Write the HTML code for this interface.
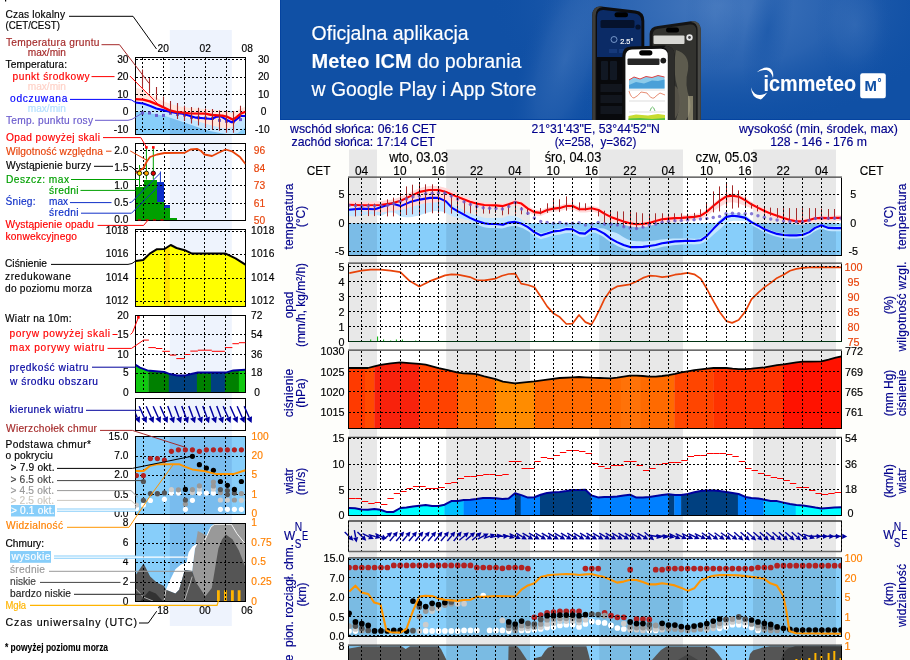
<!DOCTYPE html>
<html lang="pl"><head><meta charset="utf-8"><title>Meteogram ICM</title>
<style>html,body{margin:0;padding:0;background:#fff}body{width:910px;height:660px;overflow:hidden}svg{display:block}text{font-family:'Liberation Sans', sans-serif}</style>
</head><body>
<svg width="910" height="660" viewBox="0 0 910 660">
<defs>
<radialGradient id="bg1" cx="700" cy="-10" r="260" gradientUnits="userSpaceOnUse"><stop offset="0" stop-color="#4377BB"/><stop offset="0.45" stop-color="#2C65B0"/><stop offset="1" stop-color="#1050A5"/></radialGradient>
<radialGradient id="glow" cx="0.5" cy="0.5" r="0.5"><stop offset="0" stop-color="#4A7CC0" stop-opacity="0.95"/><stop offset="0.5" stop-color="#3A6FB8" stop-opacity="0.6"/><stop offset="1" stop-color="#1050A5" stop-opacity="0"/></radialGradient>
<radialGradient id="dark" cx="0.5" cy="0.5" r="0.5"><stop offset="0" stop-color="#1050A5" stop-opacity="1"/><stop offset="1" stop-color="#1050A5" stop-opacity="0"/></radialGradient>
<clipPath id="cban"><rect x="280" y="0" width="630" height="120"/></clipPath>
<clipPath id="c_temp"><rect x="348.5" y="177.5" width="493.0" height="77.5"/></clipPath>
<clipPath id="c_prec"><rect x="348.5" y="263.5" width="493.0" height="78.0"/></clipPath>
<clipPath id="c_pres"><rect x="348.5" y="350.5" width="493.0" height="77.80000000000001"/></clipPath>
<clipPath id="c_wind"><rect x="348.5" y="437.6" width="493.0" height="77.39999999999998"/></clipPath>
<clipPath id="c_wdir"><rect x="348.5" y="521.3" width="493.0" height="30.200000000000045"/></clipPath>
<clipPath id="c_cbase"><rect x="348.5" y="558.2" width="493.0" height="77.79999999999995"/></clipPath>
<clipPath id="c_cloud"><rect x="348.5" y="645.5" width="493.0" height="19.5"/></clipPath>
</defs>
<rect x="0" y="0" width="280" height="660" fill="#fff"/>
<rect x="280" y="0" width="630" height="660" fill="#FEFEFB"/>
<g clip-path="url(#cban)">
<rect x="280" y="0" width="630" height="120" fill="#1050A5"/>
<ellipse cx="720" cy="5" rx="230" ry="125" fill="url(#glow)"/>
<ellipse cx="565" cy="60" rx="45" ry="130" fill="url(#glow)" fill-opacity="0.55" transform="rotate(18 565 60)"/>
<ellipse cx="640" cy="110" rx="60" ry="60" fill="url(#glow)" fill-opacity="0.35"/>
<ellipse cx="768" cy="30" rx="22" ry="70" fill="url(#dark)" fill-opacity="0.55" transform="rotate(12 768 30)"/>
<ellipse cx="855" cy="25" rx="40" ry="60" fill="url(#glow)" fill-opacity="0.4"/>
<ellipse cx="715" cy="15" rx="30" ry="60" fill="url(#glow)" fill-opacity="0.35"/>
<path d="M280 0V120H910" fill="none" stroke="#0443A0" stroke-width="2"/>
<text x="311.6" y="39.6" font-size="20.5" fill="#fff" textLength="157" lengthAdjust="spacingAndGlyphs" stroke="#fff" stroke-width="0.16">Oficjalna aplikacja</text>
<text x="311.6" y="67.8" font-size="20.5" fill="#fff" textLength="100" lengthAdjust="spacingAndGlyphs" font-weight="bold" stroke="#fff" stroke-width="0.1">Meteo ICM</text>
<text x="417.5" y="67.8" font-size="20.5" fill="#fff" textLength="104" lengthAdjust="spacingAndGlyphs" stroke="#fff" stroke-width="0.16">do pobrania</text>
<text x="311.6" y="95.8" font-size="20.5" fill="#fff" textLength="225" lengthAdjust="spacingAndGlyphs" stroke="#fff" stroke-width="0.16">w Google Play i App Store</text>
<path d="M592.3 120V15.5Q592.6 6.2 601 6.6L635.5 10.6Q644.3 11.8 644.3 21V120Z" fill="#0C0C0E"/>
<path d="M592.3 120V15.5Q592.6 6.2 601 6.6L603 7Q595.6 7.5 595.6 16V120Z" fill="#3C3C3A"/>
<path d="M597 120V17Q597 9.6 603.5 10L634.5 13.5Q641.4 14.4 641.4 21.5V120Z" fill="#0B2B66"/>
<path d="M597 57H641.4V120H597Z" fill="#08090C"/>
<rect x="614.5" y="12.2" width="13.5" height="5" rx="2.5" fill="#000"/>
<rect x="600.5" y="20" width="34" height="8" rx="1.5" fill="#05122C"/>
<circle cx="638" cy="27" r="2.6" fill="#05122C"/>
<text x="620.3" y="44" font-size="8" fill="#fff" textLength="13" lengthAdjust="spacingAndGlyphs" stroke="#fff" stroke-width="0.16">2.5°</text>
<circle cx="614" cy="39.5" r="3" fill="none" stroke="#8FB0E0" stroke-width="0.8"/>
<rect x="609" y="49" width="8" height="4" fill="#16397A"/><rect x="619" y="49" width="8" height="4" fill="#16397A"/>
<rect x="601" y="61" width="7" height="19" rx="1" fill="#111823"/><rect x="610" y="61" width="7" height="19" rx="1" fill="#111823"/>
<rect x="600.5" y="84" width="22" height="8" fill="#12161E"/><rect x="600.5" y="95" width="22" height="8" fill="#12161E"/><rect x="600.5" y="106" width="22" height="8" fill="#12161E"/>
<path d="M649.6 120V34Q650 26.6 658 26L691 21.2Q700.5 20.6 700.8 30V120Z" fill="#141414"/>
<path d="M697.6 120V30Q697.4 22.6 691 22L692 21.2Q700.5 20.6 700.8 30V120Z" fill="#4A4A46"/>
<path d="M652.6 120V35Q652.8 29.4 658.5 28.8L690 24.4Q696 24 696.3 30V120Z" fill="#33332F"/>
<rect x="653.5" y="35.5" width="31" height="8.5" rx="1" fill="#D8D8D4"/>
<circle cx="689.5" cy="37.5" r="3.2" fill="#E8E8E8"/><circle cx="689.5" cy="37.5" r="1.4" fill="#444"/>
<rect x="666" y="27.5" width="13" height="5" rx="2.5" fill="#000"/>
<path d="M676 50Q690 54 688 70Q684 84 690 100Q692 112 686 120H676Q682 104 678 90Q672 70 676 50Z" fill="#7A7664" fill-opacity="0.6"/>
<path d="M672 84Q680 88 682 100Q680 112 674 120H668Q674 104 672 84Z" fill="#5F5B50" fill-opacity="0.8"/>
<path d="M688 96H693V120H688Z" fill="#B8B090" fill-opacity="0.6"/>
<path d="M622.3 120V56Q622.4 46.8 631 46.4L664 45.6Q674.3 45.8 674.5 55V120Z" fill="#0E0E0E"/>
<path d="M668.2 120V55Q668 49 664 47.6L666 45.8Q674.3 46 674.5 55V120Z" fill="#2C2C2A"/>
<path d="M625.4 120V57Q625.4 49.6 632 49.4L661 48.8Q667.6 49 667.8 55.5V120Z" fill="#fff"/>
<rect x="639.2" y="50.2" width="13.2" height="5.2" rx="2.6" fill="#000"/>
<rect x="627.5" y="58.5" width="32" height="6.6" rx="1" fill="#262626"/>
<circle cx="663.3" cy="60.6" r="2.9" fill="#1a1a1a"/>
<path d="M629 80L634 77L640 79L646 76.5L652 77.5L658 75.5L664.5 77V88.5H629Z" fill="#8CCBEA"/>
<path d="M629 85L636 82L644 83.5L652 80.5L658 81L664.5 79.5V88.5H629Z" fill="#4AA0D8"/>
<path d="M629 80L634 77L640 79L646 76.5L652 77.5L658 75.5L664.5 77" fill="none" stroke="#E03030" stroke-width="0.9"/>
<path d="M629 91Q631 98 634 98Q638 96 641 92L647 93Q651 99 654 98Q657 95 660 93L665 95" fill="none" stroke="#E07050" stroke-width="0.8"/>
<path d="M629 90H665M629 101H665M629 112H665" stroke="#BBB" stroke-width="0.5"/>
<path d="M650 111Q652.5 103 655 111" fill="none" stroke="#50B050" stroke-width="0.8"/>
<path d="M628.5 120V116L636 114.5L648 115.5L658 114L665 115V120Z" fill="#C8DC30"/>
<path d="M628.5 120V118.5L640 118L652 119L665 118V120Z" fill="#58C048"/>
<text x="763.6" y="91" font-size="21.5" font-weight="bold" fill="#fff" textLength="92.5" lengthAdjust="spacingAndGlyphs" stroke="#fff" stroke-width="0.1">icmmeteo</text>
<path d="M751 87.3Q751.5 98.5 760.8 99.5Q764.5 97 767.2 92.6Q760.5 96.8 755 93.8Q752 91.5 751 87.3Z" fill="#fff"/>
<path d="M756.8 72.2Q763.5 66 770 68.2Q774.2 71 773 78Q771.5 71.5 766.5 70Q761.5 69.5 756.8 72.2Z" fill="#fff"/>
<rect x="860.2" y="73.3" width="25.6" height="25" rx="2.2" fill="#fff"/>
<text x="864.6" y="91.2" font-size="14.7" font-weight="bold" fill="#1050A5" textLength="12.4" lengthAdjust="spacingAndGlyphs" stroke="#1050A5" stroke-width="0.1">M</text>
<text x="877.6" y="85.6" font-size="10" font-weight="bold" fill="#1050A5" stroke="#1050A5" stroke-width="0.1">°</text>
</g>
<defs>
<clipPath id="l_temp"><rect x="135.5" y="57.5" width="110.0" height="77"/></clipPath>
<clipPath id="l_prec"><rect x="135.5" y="143.5" width="110.0" height="77"/></clipPath>
<clipPath id="l_pres"><rect x="135.5" y="229.5" width="110.0" height="77"/></clipPath>
<clipPath id="l_wind"><rect x="135.5" y="315.5" width="110.0" height="77"/></clipPath>
<clipPath id="l_wdir"><rect x="135.5" y="398.5" width="110.0" height="32"/></clipPath>
<clipPath id="l_cbase"><rect x="135.5" y="436.5" width="110.0" height="78"/></clipPath>
<clipPath id="l_cloud"><rect x="135.5" y="523.5" width="110.0" height="78"/></clipPath>
</defs>
<rect x="169.8" y="30" width="62.0" height="596" fill="#EEF3FD"/>
<text x="163.2" y="51.6" font-size="10.2" fill="#000" text-anchor="middle" stroke="#000" stroke-width="0.16">20</text>
<text x="205.2" y="51.6" font-size="10.2" fill="#000" text-anchor="middle" stroke="#000" stroke-width="0.16">02</text>
<text x="247.2" y="51.6" font-size="10.2" fill="#000" text-anchor="middle" stroke="#000" stroke-width="0.16">08</text>
<rect x="135.5" y="57.5" width="110.0" height="77.0" fill="#fff"/>
<rect x="169.8" y="57.5" width="62.0" height="77.0" fill="#EEF3FD"/>
<g clip-path="url(#l_temp)">
<rect x="135.5" y="111.4" width="110.0" height="23.1" fill="#87CEFA"/>
<rect x="169.8" y="111.4" width="62.0" height="23.1" fill="#0030A0" fill-opacity="0.10"/>
<polygon points="135.27,101.47 143.19,102.53 149.78,104.77 156.37,107.41 162.97,109.12 169.56,110.71 176.16,112.02 182.75,112.68 189.34,114.66 195.94,116.64 203.85,117.3 211.76,117.96 215.72,115.98 220.99,115.32 226.27,118.62 231.54,121.26 235.5,119.28 240.77,114.93 245.65,114.93 245.4,127 238,133 230,134.5 220,133 210,131 200,128 190,124.5 180,121 165,116 150,113.3 143,111.5 135.6,110" fill="#C4E6FF"/>
<polygon points="135.6,88 142,89 150,94 157,98 164,101.5 171,104 180,106.5 190,108 200,108.6 210,109.5 220,110.4 226,111 232,112.5 236,111 240,109 245.4,106.5 245.4,116 238,121 232,127 226,128.8 220,127.5 210,125 200,122 190,119 180,116 165,112 150,104 135.6,102" fill="#FFE6DE"/>
</g>
<path d="M142.5 57.5V134.5M163.5 57.5V134.5M184.5 57.5V134.5M205.5 57.5V134.5M226.5 57.5V134.5M135.5 59.5H245.5M135.5 77.5H245.5M135.5 94.5H245.5M135.5 111.5H245.5M135.5 129.5H245.5" stroke="#000" stroke-width="1" stroke-dasharray="2 2" fill="none" shape-rendering="crispEdges"/>
<rect x="135.5" y="57.5" width="110.0" height="77" fill="none" stroke="#000" stroke-width="1" shape-rendering="crispEdges"/>
<g clip-path="url(#l_temp)">
<rect x="141" y="111.5" width="3" height="3" fill="#6A5ACD"/>
<rect x="148" y="111.5" width="3" height="3" fill="#6A5ACD"/>
<rect x="155" y="113.9" width="3" height="3" fill="#6A5ACD"/>
<rect x="162" y="113.9" width="3" height="3" fill="#6A5ACD"/>
<rect x="169" y="111.8" width="3" height="3" fill="#6A5ACD"/>
<rect x="176" y="113" width="3" height="3" fill="#6A5ACD"/>
<rect x="183" y="113.7" width="3" height="3" fill="#6A5ACD"/>
<rect x="190" y="116.1" width="3" height="3" fill="#6A5ACD"/>
<rect x="197" y="116.3" width="3" height="3" fill="#6A5ACD"/>
<rect x="204" y="116.5" width="3" height="3" fill="#6A5ACD"/>
<rect x="211" y="117" width="3" height="3" fill="#6A5ACD"/>
<rect x="218" y="118.8" width="3" height="3" fill="#6A5ACD"/>
<rect x="225" y="119.8" width="3" height="3" fill="#6A5ACD"/>
<rect x="232" y="120.3" width="3" height="3" fill="#6A5ACD"/>
<rect x="239" y="118.1" width="3" height="3" fill="#6A5ACD"/>
<polyline points="135.27,102.47 143.19,103.53 149.78,105.77 156.37,108.41 162.97,110.12 169.56,111.71 176.16,113.02 182.75,113.68 189.34,115.66 195.94,117.64 203.85,118.3 211.76,118.96 215.72,116.98 220.99,116.32 226.27,119.62 231.54,122.26 235.5,120.28 240.77,115.93 245.65,115.93" fill="none" stroke="#0000FF" stroke-width="2.1" stroke-linejoin="round"/>
<polyline points="135.27,99.18 143.19,99.57 149.78,101.42 156.37,104.06 162.97,107.09 169.56,110.39 176.16,111.97 182.75,112.63 189.34,113.29 205.17,113.68 211.76,115 222.31,115.66 227.59,116.98 232.86,119.62 236.82,116.98 240.77,113.68 245.65,111.71" fill="none" stroke="#FF0000" stroke-width="2.3" stroke-linejoin="round"/>
<path d="M142.5 69.5V88M149.5 78V93.2M156.5 87V99.8M163.5 96.5V107M170.5 101V113.7M177.5 103V119M184.5 105.8V121M191.5 107V123.6M198.5 107.7V125.5M205.5 108.4V127.5M212.5 109V129.5M219.5 110.4V130.8M226.5 111V132.8M233.5 111V132.8M240.5 105.8V117" stroke="#A52A2A" stroke-width="1.1" fill="none"/>
</g>
<text x="128.5" y="62.8" font-size="10.2" fill="#000" text-anchor="end" stroke="#000" stroke-width="0.16">30</text>
<text x="263.6" y="62.8" font-size="10.2" fill="#000" text-anchor="middle" stroke="#000" stroke-width="0.16">30</text>
<text x="128.5" y="80.3" font-size="10.2" fill="#000" text-anchor="end" stroke="#000" stroke-width="0.16">20</text>
<text x="263.6" y="80.3" font-size="10.2" fill="#000" text-anchor="middle" stroke="#000" stroke-width="0.16">20</text>
<text x="128.5" y="97.6" font-size="10.2" fill="#000" text-anchor="end" stroke="#000" stroke-width="0.16">10</text>
<text x="263.6" y="97.6" font-size="10.2" fill="#000" text-anchor="middle" stroke="#000" stroke-width="0.16">10</text>
<text x="128.5" y="115" font-size="10.2" fill="#000" text-anchor="end" stroke="#000" stroke-width="0.16">0</text>
<text x="263.6" y="115" font-size="10.2" fill="#000" text-anchor="middle" stroke="#000" stroke-width="0.16">0</text>
<text x="128.5" y="132.5" font-size="10.2" fill="#000" text-anchor="end" stroke="#000" stroke-width="0.16">-10</text>
<text x="262.3" y="132.5" font-size="10.2" fill="#000" text-anchor="middle" stroke="#000" stroke-width="0.16">-10</text>
<rect x="135.5" y="143.5" width="110.0" height="77.0" fill="#fff"/>
<rect x="169.8" y="143.5" width="62.0" height="77.0" fill="#EEF3FD"/>
<g shape-rendering="crispEdges">
<rect x="135.6" y="187" width="8" height="33.5" fill="#00A000"/>
<rect x="143.6" y="179.5" width="13.1" height="41" fill="#00A000"/>
<rect x="156.7" y="201.9" width="7.5" height="18.6" fill="#00A000"/>
<rect x="164.2" y="207.5" width="5.6" height="13" fill="#00A000"/>
<rect x="169.8" y="218.2" width="7.1" height="2.3" fill="#00A000"/>
<rect x="156.7" y="182.3" width="7.5" height="19.6" fill="#1030C8"/>
<rect x="164.2" y="205.1" width="5.6" height="2.4" fill="#1030C8"/>
</g>
<path d="M143.5 143.5V220.5M164.5 143.5V220.5M184.5 143.5V220.5M204.5 143.5V220.5M225.5 143.5V220.5M135.5 150.5H245.5M135.5 168.5H245.5M135.5 185.5H245.5M135.5 203.5H245.5" stroke="#000" stroke-width="1" stroke-dasharray="2 2" fill="none" shape-rendering="crispEdges"/>
<rect x="135.5" y="143.5" width="110.0" height="77" fill="none" stroke="#000" stroke-width="1" shape-rendering="crispEdges"/>
<path d="M139.5 165V187M146.4 148V179.5M153.3 148V179.5" stroke="#00A000" stroke-width="1" fill="none"/>
<path d="M160.4 171.5V182.3" stroke="#1030C8" stroke-width="1" fill="none"/>
<path d="M138 219.8H166" stroke="#E00000" stroke-width="1.2" stroke-dasharray="3 4.5" fill="none"/>
<polyline points="135.6,173 139,171 143.6,168 146.5,162 150,157 157,154.5 164.5,153 184.7,152.8 190.5,149.5 197,148.8 201,151 204.5,154.5 212,156 218,153 225.6,149.5 232,151.3 240,157 245.5,164" fill="none" stroke="#E8430A" stroke-width="1.8" clip-path="url(#l_prec)" stroke-linejoin="round"/>
<rect x="145.1" y="146.1" width="2.6" height="2.6" fill="#F00"/><rect x="152" y="146.1" width="2.6" height="2.6" fill="#F00"/>
<circle cx="139.5" cy="173.3" r="2.2" fill="#FFE000" stroke="#000" stroke-width="0.8"/>
<circle cx="146.4" cy="173.3" r="2.2" fill="#FFA500" stroke="#000" stroke-width="0.8"/>
<circle cx="153.3" cy="173.3" r="2.2" fill="#E00000" stroke="#000" stroke-width="0.8"/>
<text x="128.4" y="154" font-size="10.2" fill="#000" text-anchor="end" stroke="#000" stroke-width="0.16">2.0</text>
<text x="128.4" y="171.2" font-size="10.2" fill="#000" text-anchor="end" stroke="#000" stroke-width="0.16">1.5</text>
<text x="128.4" y="188.6" font-size="10.2" fill="#000" text-anchor="end" stroke="#000" stroke-width="0.16">1.0</text>
<text x="128.4" y="206.3" font-size="10.2" fill="#000" text-anchor="end" stroke="#000" stroke-width="0.16">0.5</text>
<text x="128.4" y="223.3" font-size="10.2" fill="#000" text-anchor="end" stroke="#000" stroke-width="0.16">0.0</text>
<text x="259.5" y="153.5" font-size="10.2" fill="#E8430A" text-anchor="middle" stroke="#E8430A" stroke-width="0.16">96</text>
<text x="259.5" y="171.5" font-size="10.2" fill="#E8430A" text-anchor="middle" stroke="#E8430A" stroke-width="0.16">84</text>
<text x="259.5" y="188.6" font-size="10.2" fill="#E8430A" text-anchor="middle" stroke="#E8430A" stroke-width="0.16">73</text>
<text x="259.5" y="206.6" font-size="10.2" fill="#E8430A" text-anchor="middle" stroke="#E8430A" stroke-width="0.16">61</text>
<text x="259.5" y="223.5" font-size="10.2" fill="#E8430A" text-anchor="middle" stroke="#E8430A" stroke-width="0.16">50</text>
<rect x="135.5" y="229.5" width="110.0" height="77.0" fill="#fff"/>
<rect x="169.8" y="229.5" width="62.0" height="77.0" fill="#EEF3FD"/>
<clipPath id="l_presfill"><polygon points="135.6,306.5 135.6,261 143.2,260 149.8,253.6 157,249.2 164.5,249 170.7,245 176.5,248 184.7,250.2 192,253.6 225.6,253.6 235.5,258.3 245.4,264.6 245.4,306.5"/></clipPath>
<polygon points="135.6,306.5 135.6,261 143.2,260 149.8,253.6 157,249.2 164.5,249 170.7,245 176.5,248 184.7,250.2 192,253.6 225.6,253.6 235.5,258.3 245.4,264.6 245.4,306.5" fill="#FFFF00"/>
<rect x="164.5" y="246" width="5.2" height="60.5" fill="#FFD800" fill-opacity="0.8" clip-path="url(#l_presfill)"/>
<path d="M143.5 229.5V306.5M164.5 229.5V306.5M184.5 229.5V306.5M204.5 229.5V306.5M225.5 229.5V306.5M135.5 231.5H245.5M135.5 254.5H245.5M135.5 278.5H245.5M135.5 301.5H245.5" stroke="#000" stroke-width="1" stroke-dasharray="2 2" fill="none" shape-rendering="crispEdges"/>
<rect x="135.5" y="229.5" width="110.0" height="77" fill="none" stroke="#000" stroke-width="1" shape-rendering="crispEdges"/>
<polyline points="135.6,261 143.2,260 149.8,253.6 157,249.2 164.5,249 170.7,245 176.5,248 184.7,250.2 192,253.6 225.6,253.6 235.5,258.3 245.4,264.6" fill="none" stroke="#000" stroke-width="2" clip-path="url(#l_pres)" stroke-linejoin="round"/>
<text x="128.4" y="234.4" font-size="10.2" fill="#000" text-anchor="end" stroke="#000" stroke-width="0.16">1018</text>
<text x="251" y="234.4" font-size="10.2" fill="#000" textLength="23.4" lengthAdjust="spacing" stroke="#000" stroke-width="0.16">1018</text>
<text x="128.4" y="257.3" font-size="10.2" fill="#000" text-anchor="end" stroke="#000" stroke-width="0.16">1016</text>
<text x="251" y="257.3" font-size="10.2" fill="#000" textLength="23.4" lengthAdjust="spacing" stroke="#000" stroke-width="0.16">1016</text>
<text x="128.4" y="281.2" font-size="10.2" fill="#000" text-anchor="end" stroke="#000" stroke-width="0.16">1014</text>
<text x="251" y="281.2" font-size="10.2" fill="#000" textLength="23.4" lengthAdjust="spacing" stroke="#000" stroke-width="0.16">1014</text>
<text x="128.4" y="304.4" font-size="10.2" fill="#000" text-anchor="end" stroke="#000" stroke-width="0.16">1012</text>
<text x="251" y="304.4" font-size="10.2" fill="#000" textLength="23.4" lengthAdjust="spacing" stroke="#000" stroke-width="0.16">1012</text>
<rect x="135.5" y="315.5" width="110.0" height="77.0" fill="#fff"/>
<rect x="169.8" y="315.5" width="62.0" height="77.0" fill="#EEF3FD"/>
<polygon points="135.6,392.5 135.6,364.8 139.9,367.6 147.4,370.4 148.5,370.5 148.5,392.5" fill="#10C810"/>
<polygon points="148.3,392.5 148.3,370.48 164.2,371.9 169,373.79 169,392.5" fill="#008000"/>
<polygon points="168.8,392.5 168.8,373.71 169.8,374.1 177.3,375.6 184.7,375.6 192.2,373.7 197.1,372.74 197.1,392.5" fill="#004080"/>
<polygon points="196.9,392.5 196.9,372.78 197.8,372.6 211.1,372.6 211.1,392.5" fill="#008000"/>
<polygon points="210.9,392.5 210.9,372.6 225.1,372.6 225.1,392.5" fill="#004080"/>
<polygon points="224.9,392.5 224.9,372.6 225.8,372.6 233.3,370.4 239.1,370.11 239.1,392.5" fill="#008000"/>
<polygon points="238.9,392.5 238.9,370.12 245.4,369.8 245.6,369.8 245.6,392.5" fill="#10C810"/>
<path d="M143.5 315.5V392.5M164.5 315.5V392.5M184.5 315.5V392.5M204.5 315.5V392.5M225.5 315.5V392.5M135.5 334.5H245.5M135.5 354.5H245.5M135.5 373.5H245.5" stroke="#000" stroke-width="1" stroke-dasharray="2 2" fill="none" shape-rendering="crispEdges"/>
<rect x="135.5" y="315.5" width="110.0" height="77" fill="none" stroke="#000" stroke-width="1" shape-rendering="crispEdges"/>
<polyline points="135.6,364.8 139.9,367.6 147.4,370.4 164.2,371.9 169.8,374.1 177.3,375.6 184.7,375.6 192.2,373.7 197.8,372.6 225.8,372.6 233.3,370.4 245.4,369.8" fill="none" stroke="#00009C" stroke-width="2" clip-path="url(#l_wind)" stroke-linejoin="round"/>
<path d="M143.6 340.1H148.9M148.3 347.6H155.8M155.8 348.5H162.3M162.3 351.3H169.8M169.8 355.1H176.3M176.3 358.6H184.7M184.7 354.5H190.3M190.3 351.1H197.8M197.8 350.2H211.8M211.8 351.3H224.9M224.9 347.6H232.4M232.4 343.7H238.9M238.9 342.7H245.4" stroke="#F00" stroke-width="1" fill="none"/>
<rect x="137.1" y="316" width="2.6" height="2.6" fill="#F00"/>
<text x="128.6" y="318.6" font-size="10.2" fill="#000" text-anchor="end" stroke="#000" stroke-width="0.16">20</text>
<text x="128.6" y="337.6" font-size="10.2" fill="#000" text-anchor="end" stroke="#000" stroke-width="0.16">15</text>
<text x="128.6" y="357.5" font-size="10.2" fill="#000" text-anchor="end" stroke="#000" stroke-width="0.16">10</text>
<text x="128.6" y="376.4" font-size="10.2" fill="#000" text-anchor="end" stroke="#000" stroke-width="0.16">5</text>
<text x="128.6" y="395.5" font-size="10.2" fill="#000" text-anchor="end" stroke="#000" stroke-width="0.16">0</text>
<text x="251" y="318.6" font-size="10.2" fill="#000" stroke="#000" stroke-width="0.16">72</text>
<text x="251" y="337.6" font-size="10.2" fill="#000" stroke="#000" stroke-width="0.16">54</text>
<text x="251" y="357.5" font-size="10.2" fill="#000" stroke="#000" stroke-width="0.16">36</text>
<text x="251" y="376.4" font-size="10.2" fill="#000" stroke="#000" stroke-width="0.16">18</text>
<text x="254.3" y="395.5" font-size="10.2" fill="#000" stroke="#000" stroke-width="0.16">0</text>
<rect x="135.5" y="398.5" width="110.0" height="32.0" fill="#fff"/>
<rect x="169.8" y="398.5" width="62.0" height="32.0" fill="#EEF3FD"/>
<path d="M143.5 398.5V430.5M164.5 398.5V430.5M184.5 398.5V430.5M204.5 398.5V430.5M225.5 398.5V430.5" stroke="#000" stroke-width="1" stroke-dasharray="2 2" fill="none" shape-rendering="crispEdges"/>
<rect x="135.5" y="398.5" width="110.0" height="32" fill="none" stroke="#000" stroke-width="1" shape-rendering="crispEdges"/>
<clipPath id="l_wd"><rect x="135.5" y="398" width="130" height="33"/></clipPath><g clip-path="url(#l_wd)"><path d="M132.16 406.2L137.2 417.52" stroke="#0000A0" stroke-width="1.45" fill="none"/><polygon points="139.64,423 134.37,418.78 140.03,416.26" fill="#0000A0"/><path d="M139.16 406.2L144.2 417.52" stroke="#0000A0" stroke-width="1.45" fill="none"/><polygon points="146.64,423 141.37,418.78 147.03,416.26" fill="#0000A0"/><path d="M146.16 406.2L151.2 417.52" stroke="#0000A0" stroke-width="1.45" fill="none"/><polygon points="153.64,423 148.37,418.78 154.03,416.26" fill="#0000A0"/><path d="M153.16 406.2L158.2 417.52" stroke="#0000A0" stroke-width="1.45" fill="none"/><polygon points="160.64,423 155.37,418.78 161.03,416.26" fill="#0000A0"/><path d="M160.16 406.2L165.2 417.52" stroke="#0000A0" stroke-width="1.45" fill="none"/><polygon points="167.64,423 162.37,418.78 168.03,416.26" fill="#0000A0"/><path d="M167.75 405.95L171.99 417.61" stroke="#0000A0" stroke-width="1.45" fill="none"/><polygon points="174.05,423.25 169.08,418.67 174.91,416.55" fill="#0000A0"/><path d="M174.75 405.95L178.99 417.61" stroke="#0000A0" stroke-width="1.45" fill="none"/><polygon points="181.05,423.25 176.08,418.67 181.91,416.55" fill="#0000A0"/><path d="M181.75 405.95L185.99 417.61" stroke="#0000A0" stroke-width="1.45" fill="none"/><polygon points="188.05,423.25 183.08,418.67 188.91,416.55" fill="#0000A0"/><path d="M188.75 405.95L192.99 417.61" stroke="#0000A0" stroke-width="1.45" fill="none"/><polygon points="195.05,423.25 190.08,418.67 195.91,416.55" fill="#0000A0"/><path d="M195.75 405.95L199.99 417.61" stroke="#0000A0" stroke-width="1.45" fill="none"/><polygon points="202.05,423.25 197.08,418.67 202.91,416.55" fill="#0000A0"/><path d="M202.75 405.95L206.99 417.61" stroke="#0000A0" stroke-width="1.45" fill="none"/><polygon points="209.05,423.25 204.08,418.67 209.91,416.55" fill="#0000A0"/><path d="M209.75 405.95L213.99 417.61" stroke="#0000A0" stroke-width="1.45" fill="none"/><polygon points="216.05,423.25 211.08,418.67 216.91,416.55" fill="#0000A0"/><path d="M216.75 405.95L220.99 417.61" stroke="#0000A0" stroke-width="1.45" fill="none"/><polygon points="223.05,423.25 218.08,418.67 223.91,416.55" fill="#0000A0"/><path d="M223.16 406.2L228.2 417.52" stroke="#0000A0" stroke-width="1.45" fill="none"/><polygon points="230.64,423 225.37,418.78 231.03,416.26" fill="#0000A0"/><path d="M230.16 406.2L235.2 417.52" stroke="#0000A0" stroke-width="1.45" fill="none"/><polygon points="237.64,423 232.37,418.78 238.03,416.26" fill="#0000A0"/><path d="M237.16 406.2L242.2 417.52" stroke="#0000A0" stroke-width="1.45" fill="none"/><polygon points="244.64,423 239.37,418.78 245.03,416.26" fill="#0000A0"/><path d="M244.16 406.2L249.2 417.52" stroke="#0000A0" stroke-width="1.45" fill="none"/><polygon points="251.64,423 246.37,418.78 252.03,416.26" fill="#0000A0"/></g>
<rect x="135.5" y="436.5" width="110.0" height="78.0" fill="#87CEFA"/>
<rect x="169.8" y="436.5" width="62.0" height="78" fill="#00208A" fill-opacity="0.1"/>
<path d="M143.5 436.5V514.5M164.5 436.5V514.5M184.5 436.5V514.5M204.5 436.5V514.5M225.5 436.5V514.5M135.5 456.5H245.5M135.5 475.5H245.5M135.5 494.5H245.5" stroke="#000" stroke-width="1" stroke-dasharray="2 2" fill="none" shape-rendering="crispEdges"/>
<rect x="135.5" y="436.5" width="110.0" height="78" fill="none" stroke="#000" stroke-width="1" shape-rendering="crispEdges"/>
<g clip-path="url(#l_cbase)">
<circle cx="136.4" cy="475.6" r="2.6" fill="#B22222"/><circle cx="143.4" cy="475.6" r="2.6" fill="#B22222"/><circle cx="150.4" cy="458.6" r="2.6" fill="#B22222"/><circle cx="157.4" cy="458.6" r="2.6" fill="#B22222"/><circle cx="164.4" cy="460.1" r="2.6" fill="#B22222"/><circle cx="171.4" cy="451.3" r="2.6" fill="#B22222"/><circle cx="178.4" cy="449.8" r="2.6" fill="#B22222"/><circle cx="185.4" cy="449.8" r="2.6" fill="#B22222"/><circle cx="192.4" cy="449.8" r="2.6" fill="#B22222"/><circle cx="199.4" cy="451.3" r="2.6" fill="#B22222"/><circle cx="206.4" cy="449.8" r="2.6" fill="#B22222"/><circle cx="213.4" cy="449.8" r="2.6" fill="#B22222"/><circle cx="220.4" cy="449.8" r="2.6" fill="#B22222"/><circle cx="227.4" cy="449.8" r="2.6" fill="#B22222"/><circle cx="234.4" cy="449.8" r="2.6" fill="#B22222"/><circle cx="241.4" cy="449.8" r="2.6" fill="#B22222"/><circle cx="248.4" cy="449.8" r="2.6" fill="#B22222"/><circle cx="136.4" cy="508.5" r="2.6" fill="#FFF"/><circle cx="136.4" cy="505" r="2.6" fill="#CCC"/><circle cx="143.4" cy="505" r="2.6" fill="#FFF"/><circle cx="143.4" cy="500.3" r="2.6" fill="#555"/><circle cx="143.4" cy="481.5" r="2.6" fill="#555"/><circle cx="150.4" cy="500.5" r="2.6" fill="#FFF"/><circle cx="150.4" cy="493.6" r="2.6" fill="#555"/><circle cx="157.4" cy="493.9" r="2.6" fill="#999"/><circle cx="157.4" cy="493.6" r="2.6" fill="#555"/><circle cx="164.4" cy="499.3" r="2.6" fill="#FFF"/><circle cx="164.4" cy="492.9" r="2.6" fill="#555"/><circle cx="171.4" cy="493.1" r="2.6" fill="#FFF"/><circle cx="171.4" cy="489.6" r="2.6" fill="#CCC"/><circle cx="178.4" cy="493.1" r="2.6" fill="#FFF"/><circle cx="178.4" cy="489.8" r="2.6" fill="#999"/><circle cx="185.4" cy="509.3" r="2.6" fill="#FFF"/><circle cx="185.4" cy="504" r="2.6" fill="#999"/><circle cx="185.4" cy="500" r="2.6" fill="#555"/><circle cx="185.4" cy="489.4" r="2.6" fill="#000"/><circle cx="192.4" cy="500.3" r="2.6" fill="#FFF"/><circle cx="192.4" cy="492.6" r="2.6" fill="#CCC"/><circle cx="192.4" cy="489.6" r="2.6" fill="#999"/><circle cx="192.4" cy="456.3" r="2.6" fill="#000"/><circle cx="199.4" cy="493.1" r="2.6" fill="#FFF"/><circle cx="199.4" cy="489.1" r="2.6" fill="#CCC"/><circle cx="199.4" cy="485.8" r="2.6" fill="#999"/><circle cx="199.4" cy="464.7" r="2.6" fill="#000"/><circle cx="206.4" cy="493.1" r="2.6" fill="#FFF"/><circle cx="206.4" cy="468.1" r="2.6" fill="#000"/><circle cx="213.4" cy="493.1" r="2.6" fill="#FFF"/><circle cx="213.4" cy="489.1" r="2.6" fill="#CCC"/><circle cx="213.4" cy="486" r="2.6" fill="#999"/><circle cx="213.4" cy="482" r="2.6" fill="#999"/><circle cx="213.4" cy="470.3" r="2.6" fill="#000"/><circle cx="220.4" cy="509.3" r="2.6" fill="#FFF"/><circle cx="220.4" cy="500" r="2.6" fill="#CCC"/><circle cx="220.4" cy="492.6" r="2.6" fill="#999"/><circle cx="220.4" cy="489.6" r="2.6" fill="#555"/><circle cx="220.4" cy="481.5" r="2.6" fill="#000"/><circle cx="227.4" cy="509.3" r="2.6" fill="#FFF"/><circle cx="227.4" cy="500" r="2.6" fill="#CCC"/><circle cx="227.4" cy="494.6" r="2.6" fill="#555"/><circle cx="227.4" cy="490.6" r="2.6" fill="#555"/><circle cx="227.4" cy="485.3" r="2.6" fill="#000"/><circle cx="234.4" cy="509.3" r="2.6" fill="#FFF"/><circle cx="234.4" cy="500" r="2.6" fill="#999"/><circle cx="234.4" cy="493.1" r="2.6" fill="#555"/><circle cx="234.4" cy="489.4" r="2.6" fill="#000"/><circle cx="241.4" cy="509.3" r="2.6" fill="#FFF"/><circle cx="241.4" cy="500.3" r="2.6" fill="#CCC"/><circle cx="241.4" cy="493.6" r="2.6" fill="#999"/><circle cx="241.4" cy="481.5" r="2.6" fill="#000"/><circle cx="248.4" cy="500" r="2.6" fill="#CCC"/><circle cx="248.4" cy="481.5" r="2.6" fill="#999"/><circle cx="248.4" cy="476.3" r="2.6" fill="#000"/>
<polyline points="135.6,470.9 143.6,470.9 150.2,465.7 156.7,464.2 179.1,464.2 184.7,466.6 192.2,469.4 203.4,470.9 216.5,474.1 233.3,474.1 245.4,470.3" fill="none" stroke="#FF9500" stroke-width="2" stroke-linejoin="round"/>
</g>
<text x="128.4" y="439.6" font-size="10.2" fill="#000" text-anchor="end" stroke="#000" stroke-width="0.16">15.0</text>
<text x="128.4" y="459.3" font-size="10.2" fill="#000" text-anchor="end" stroke="#000" stroke-width="0.16">7.0</text>
<text x="128.4" y="478.4" font-size="10.2" fill="#000" text-anchor="end" stroke="#000" stroke-width="0.16">2.0</text>
<text x="128.4" y="498.4" font-size="10.2" fill="#000" text-anchor="end" stroke="#000" stroke-width="0.16">0.5</text>
<text x="128.4" y="517.3" font-size="10.2" fill="#000" text-anchor="end" stroke="#000" stroke-width="0.16">0.0</text>
<text x="251.6" y="439.6" font-size="10.2" fill="#FF8000" stroke="#FF8000" stroke-width="0.16">100</text>
<text x="251.6" y="459.3" font-size="10.2" fill="#FF8000" stroke="#FF8000" stroke-width="0.16">20</text>
<text x="251.6" y="478.4" font-size="10.2" fill="#FF8000" stroke="#FF8000" stroke-width="0.16">5</text>
<text x="251.6" y="498" font-size="10.2" fill="#FF8000" stroke="#FF8000" stroke-width="0.16">1</text>
<text x="251.6" y="517.4" font-size="10.2" fill="#FF8000" stroke="#FF8000" stroke-width="0.16">0</text>
<rect x="135.5" y="523.5" width="110.0" height="78.0" fill="#87CEFA"/>
<rect x="169.8" y="523.5" width="62.0" height="78" fill="#00208A" fill-opacity="0.1"/>
<g clip-path="url(#l_cloud)">
<polygon points="192.2,571 195,548.6 197.8,530.9 203.4,533.7 207.1,535.5 210.9,527.1 214.6,523.5 245.5,523.5 245.5,601.5 200,601.5" fill="#999"/>
<polygon points="166,589.7 169.8,580.4 175.4,569.2 181,564.5 186.6,562.6 188.5,552.4 192.2,546.8 197.8,543 195,548.6 193.5,560 192.2,571 184.7,570.1 179.1,589.7 175.4,593.5" fill="#fff"/>
<polygon points="135.6,601.5 135.6,575 143.6,563.6 150.2,576.6 156.7,582.6 164.2,586 166,589.7 175.4,593.5 179.1,589.7 184.7,570.1 192.2,571 195.9,582.3 205.3,596.3 211.8,587.9 218.4,548.6 222,539.5 225.8,534.6 232.4,539.3 238.9,550.5 245.5,567.3 245.5,601.5" fill="#555"/>
<polygon points="139.9,601.5 149.2,590.7 155.8,593.5 163.2,601.5" fill="#333"/>
<polyline points="203.4,543 207.1,535.5 210.9,527.1 214.6,524.3 231.4,524.3 237,533.7 244.5,543" fill="none" stroke="#fff" stroke-width="0.9"/>
<polyline points="135.6,588.8 143.6,597.2 153,601" fill="none" stroke="#ddd" stroke-width="0.7"/>
<polyline points="164.2,600 166,589.7" fill="none" stroke="#eee" stroke-width="0.8"/>
<polyline points="184.7,600 192.2,576.6" fill="none" stroke="#ccc" stroke-width="0.8"/>
</g>
<path d="M143.5 523.5V601.5M164.5 523.5V601.5M184.5 523.5V601.5M204.5 523.5V601.5M225.5 523.5V601.5M135.5 543.5H245.5M135.5 562.5H245.5M135.5 582.5H245.5" stroke="#000" stroke-width="1" stroke-dasharray="2 2" fill="none" shape-rendering="crispEdges"/>
<rect x="135.5" y="523.5" width="110.0" height="78" fill="none" stroke="#000" stroke-width="1" shape-rendering="crispEdges"/>
<path d="M218.4 590.3V601M225.4 590.3V601M232.4 590.3V601M239.1 590.3V601" stroke="#FFB400" stroke-width="2.8" fill="none"/>
<path d="M225.5 590V601" stroke="#000" stroke-width="1" stroke-dasharray="2 2" shape-rendering="crispEdges"/>
<text x="128.4" y="526.2" font-size="10.2" fill="#000" text-anchor="end" stroke="#000" stroke-width="0.16">8</text>
<text x="128.4" y="546.3" font-size="10.2" fill="#000" text-anchor="end" stroke="#000" stroke-width="0.16">6</text>
<text x="128.4" y="565.4" font-size="10.2" fill="#000" text-anchor="end" stroke="#000" stroke-width="0.16">4</text>
<text x="128.4" y="585.4" font-size="10.2" fill="#000" text-anchor="end" stroke="#000" stroke-width="0.16">2</text>
<text x="128.4" y="604.6" font-size="10.2" fill="#000" text-anchor="end" stroke="#000" stroke-width="0.16">0</text>
<text x="251.3" y="525.9" font-size="10.2" fill="#FF8000" stroke="#FF8000" stroke-width="0.16">1</text>
<text x="251.3" y="546.4" font-size="10.2" fill="#FF8000" textLength="20.4" lengthAdjust="spacing" stroke="#FF8000" stroke-width="0.16">0.75</text>
<text x="251.3" y="565.2" font-size="10.2" fill="#FF8000" textLength="14.6" lengthAdjust="spacing" stroke="#FF8000" stroke-width="0.16">0.5</text>
<text x="251.3" y="585.2" font-size="10.2" fill="#FF8000" textLength="20.4" lengthAdjust="spacing" stroke="#FF8000" stroke-width="0.16">0.25</text>
<text x="251.3" y="604.6" font-size="10.2" fill="#FF8000" stroke="#FF8000" stroke-width="0.16">0</text>
<text x="162.9" y="613.5" font-size="10.2" fill="#000" text-anchor="middle" stroke="#000" stroke-width="0.16">18</text>
<text x="204.9" y="613.5" font-size="10.2" fill="#000" text-anchor="middle" stroke="#000" stroke-width="0.16">00</text>
<text x="246.9" y="613.5" font-size="10.2" fill="#000" text-anchor="middle" stroke="#000" stroke-width="0.16">06</text>
<polyline points="69,16.3 133,16.3 156.5,49" fill="none" stroke="#000" stroke-width="1"/>
<polyline points="101.5,44.7 119.5,44.7 149.1,83.4" fill="none" stroke="#A52A2A" stroke-width="1"/>
<polyline points="91.5,76.6 114.5,76.6" fill="none" stroke="#F00" stroke-width="1"/>
<polyline points="130,76.1 157.7,103.8" fill="none" stroke="#F00" stroke-width="1"/>
<polyline points="70,99.4 128,99.4 131.5,100 135.6,102.5" fill="none" stroke="#00F" stroke-width="1"/>
<polyline points="95,120.3 128,120.3 132,119.3 142.5,113" fill="none" stroke="#6A5ACD" stroke-width="1"/>
<polyline points="103,137.6 140.8,137.6 146.4,147" fill="none" stroke="#F00" stroke-width="1"/>
<polyline points="106,151.2 111.5,151.2" fill="none" stroke="#E8430A" stroke-width="1"/>
<polyline points="130.2,150.9 146.4,160" fill="none" stroke="#E8430A" stroke-width="1"/>
<polyline points="94,166.3 113,166.3" fill="none" stroke="#000" stroke-width="1"/>
<polyline points="129.3,166.4 131.5,166.8 137.6,172" fill="none" stroke="#000" stroke-width="1"/>
<polyline points="71,179.5 139.5,179.5" fill="none" stroke="#00A000" stroke-width="1"/>
<polyline points="80.5,190.4 135.6,190.4" fill="none" stroke="#00A000" stroke-width="1"/>
<polyline points="70,202.6 111.5,202.6" fill="none" stroke="#1030C8" stroke-width="1"/>
<polyline points="129.5,202.6 131.5,202.2 160.4,173" fill="none" stroke="#1030C8" stroke-width="1"/>
<polyline points="81,213.2 131.5,213.2 156.7,188" fill="none" stroke="#1030C8" stroke-width="1"/>
<polyline points="97.5,225.4 143.6,225.4 148.3,219.8" fill="none" stroke="#F00" stroke-width="1"/>
<polyline points="51,264.4 128,264.4 132,263.5 135.6,261" fill="none" stroke="#000" stroke-width="1"/>
<polyline points="112.5,334.5 117.5,334.5" fill="none" stroke="#F00" stroke-width="1"/>
<polyline points="130.5,334.5 132.5,332.5 138.4,317.5" fill="none" stroke="#F00" stroke-width="1"/>
<polyline points="107.5,348.4 131.5,348.4 143.6,340.1" fill="none" stroke="#F00" stroke-width="1"/>
<polyline points="92,367.2 135.6,367.2" fill="none" stroke="#00009C" stroke-width="1"/>
<polyline points="86,410.3 140,410.3" fill="none" stroke="#00009C" stroke-width="1"/>
<polyline points="100,430.4 132.4,430.4 184.4,447" fill="none" stroke="#A52A2A" stroke-width="1"/>
<polyline points="57,468.4 132.4,468.4 191.6,456.3" fill="none" stroke="#000" stroke-width="1"/>
<polyline points="57,480.6 143.6,480.6" fill="none" stroke="#444" stroke-width="1"/>
<polyline points="57,490.6 131,490.6 138,497.4" fill="none" stroke="#999" stroke-width="1"/>
<polyline points="57,500.4 131,500.4 136,505" fill="none" stroke="#CCC8C0" stroke-width="1"/>
<path d="M57 510.2H136" stroke="#87CEFA" stroke-width="3.2" fill="none"/><path d="M57 510.2H136" stroke="#fff" stroke-width="1.2" fill="none"/>
<polyline points="67,527.3 129,527.3 149.2,497.4 173.5,464.2" fill="none" stroke="#FF9500" stroke-width="1"/>
<path d="M54 557.2H136" stroke="#87CEFA" stroke-width="3.2" fill="none"/><path d="M54 557.2H190" stroke="#fff" stroke-width="1.2" fill="none"/>
<polyline points="49,571.3 192,571.3" fill="none" stroke="#999" stroke-width="1"/>
<polyline points="40,582.4 120.5,582.4" fill="none" stroke="#444" stroke-width="1"/>
<polyline points="130,582.4 136,582.4" fill="none" stroke="#444" stroke-width="1"/>
<polyline points="74,594.3 143,594.3" fill="none" stroke="#222" stroke-width="1"/>
<polyline points="30,605.4 217,605.4 218.4,601" fill="none" stroke="#FFB400" stroke-width="1.2"/>
<polyline points="139,623 148.3,623 156.7,611.2" fill="none" stroke="#000" stroke-width="1"/>
<text x="5.5" y="17.8" font-size="10.2" fill="#000" textLength="59.5" lengthAdjust="spacing" stroke="#000" stroke-width="0.16">Czas lokalny</text>
<text x="5.5" y="29.3" font-size="10.2" fill="#000" textLength="54.5" lengthAdjust="spacingAndGlyphs" stroke="#000" stroke-width="0.16">(CET/CEST)</text>
<text x="6" y="45.6" font-size="10.2" fill="#A52A2A" textLength="93.5" lengthAdjust="spacing" stroke="#A52A2A" stroke-width="0.16">Temperatura gruntu</text>
<text x="27.7" y="55.8" font-size="10.2" fill="#A52A2A" textLength="38.3" lengthAdjust="spacingAndGlyphs" stroke="#A52A2A" stroke-width="0.16">max/min</text>
<text x="5.5" y="67.8" font-size="10.2" fill="#000" textLength="61.5" lengthAdjust="spacing" stroke="#000" stroke-width="0.16">Temperatura:</text>
<text x="12.6" y="79.9" font-size="10.2" fill="#F00" textLength="77" lengthAdjust="spacing" stroke="#F00" stroke-width="0.16">punkt środkowy</text>
<text x="27.7" y="90.1" font-size="10.2" fill="#FFD2C8" textLength="38.3" lengthAdjust="spacingAndGlyphs" stroke="#FFD2C8" stroke-width="0.16">max/min</text>
<text x="10" y="101.6" font-size="10.2" fill="#00F" textLength="57.4" lengthAdjust="spacing" stroke="#00F" stroke-width="0.16">odczuwana</text>
<text x="27.7" y="111.6" font-size="10.2" fill="#B4E0FF" textLength="38.3" lengthAdjust="spacingAndGlyphs" stroke="#B4E0FF" stroke-width="0.16">max/min</text>
<text x="6" y="123.9" font-size="10.2" fill="#6A5ACD" textLength="87" lengthAdjust="spacing" stroke="#6A5ACD" stroke-width="0.16">Temp. punktu rosy</text>
<text x="6" y="140.9" font-size="10.2" fill="#F00" textLength="94" lengthAdjust="spacing" stroke="#F00" stroke-width="0.16">Opad powyżej skali</text>
<text x="6" y="154.7" font-size="10.2" fill="#E8430A" textLength="97" lengthAdjust="spacing" stroke="#E8430A" stroke-width="0.16">Wilgotność względna</text>
<text x="6" y="168.9" font-size="10.2" fill="#000" textLength="85" lengthAdjust="spacing" stroke="#000" stroke-width="0.16">Wystąpienie burzy</text>
<text x="6" y="182.7" font-size="10.2" fill="#00A000" textLength="63" lengthAdjust="spacing" stroke="#00A000" stroke-width="0.16">Deszcz: max</text>
<text x="49" y="193.6" font-size="10.2" fill="#00A000" textLength="29.5" lengthAdjust="spacing" stroke="#00A000" stroke-width="0.16">średni</text>
<text x="5.5" y="205" font-size="10.2" fill="#1030C8" textLength="30" lengthAdjust="spacing" stroke="#1030C8" stroke-width="0.16">Śnieg:</text>
<text x="49" y="205" font-size="10.2" fill="#1030C8" textLength="19" lengthAdjust="spacingAndGlyphs" stroke="#1030C8" stroke-width="0.16">max</text>
<text x="49" y="215.8" font-size="10.2" fill="#1030C8" textLength="29.5" lengthAdjust="spacing" stroke="#1030C8" stroke-width="0.16">średni</text>
<text x="5.5" y="227.8" font-size="10.2" fill="#F00" textLength="88.5" lengthAdjust="spacing" stroke="#F00" stroke-width="0.16">Wystąpienie opadu</text>
<text x="5.5" y="240.1" font-size="10.2" fill="#F00" textLength="71.5" lengthAdjust="spacing" stroke="#F00" stroke-width="0.16">konwekcyjnego</text>
<text x="5" y="267" font-size="10.2" fill="#000" textLength="42" lengthAdjust="spacing" stroke="#000" stroke-width="0.16">Ciśnienie</text>
<text x="5" y="279.5" font-size="10.2" fill="#000" textLength="66" lengthAdjust="spacing" stroke="#000" stroke-width="0.16">zredukowane</text>
<text x="5" y="292.4" font-size="10.2" fill="#000" textLength="87" lengthAdjust="spacing" stroke="#000" stroke-width="0.16">do poziomu morza</text>
<text x="5" y="321.6" font-size="10.2" fill="#000" textLength="66.5" lengthAdjust="spacing" stroke="#000" stroke-width="0.16">Wiatr na 10m:</text>
<text x="9.5" y="337.3" font-size="10.2" fill="#F00" textLength="100.5" lengthAdjust="spacing" stroke="#F00" stroke-width="0.16">poryw powyżej skali</text>
<text x="9.5" y="351.2" font-size="10.2" fill="#F00" textLength="95" lengthAdjust="spacing" stroke="#F00" stroke-width="0.16">max porywy wiatru</text>
<text x="9.5" y="371.4" font-size="10.2" fill="#0000A0" textLength="79" lengthAdjust="spacing" stroke="#0000A0" stroke-width="0.16">prędkość wiatru</text>
<text x="10" y="384.7" font-size="10.2" fill="#0000A0" textLength="88" lengthAdjust="spacing" stroke="#0000A0" stroke-width="0.16">w środku obszaru</text>
<text x="9.5" y="412.7" font-size="10.2" fill="#0000A0" textLength="74" lengthAdjust="spacing" stroke="#0000A0" stroke-width="0.16">kierunek wiatru</text>
<text x="6" y="432.4" font-size="10.2" fill="#A52A2A" textLength="91" lengthAdjust="spacing" stroke="#A52A2A" stroke-width="0.16">Wierzchołek chmur</text>
<text x="5.5" y="447.5" font-size="10.2" fill="#000" textLength="85.5" lengthAdjust="spacing" stroke="#000" stroke-width="0.16">Podstawa chmur*</text>
<text x="5.5" y="458.6" font-size="10.2" fill="#000" textLength="47.5" lengthAdjust="spacing" stroke="#000" stroke-width="0.16">o pokryciu</text>
<text x="10.5" y="471.3" font-size="10.2" fill="#000" textLength="44" lengthAdjust="spacing" stroke="#000" stroke-width="0.16">&gt; 7.9 okt.</text>
<text x="10.5" y="482.7" font-size="10.2" fill="#444" textLength="43.5" lengthAdjust="spacing" stroke="#444" stroke-width="0.16">&gt; 6.5 okt.</text>
<text x="10.5" y="493.5" font-size="10.2" fill="#999" textLength="43.5" lengthAdjust="spacing" stroke="#999" stroke-width="0.16">&gt; 4.5 okt.</text>
<text x="10.5" y="503.6" font-size="10.2" fill="#CCC8C0" textLength="43.5" lengthAdjust="spacing" stroke="#CCC8C0" stroke-width="0.16">&gt; 2.5 okt.</text>
<rect x="11" y="505" width="44" height="11.5" fill="#87CEFA"/>
<text x="11" y="514.4" font-size="10.2" fill="#fff" textLength="43.5" lengthAdjust="spacing" stroke="#fff" stroke-width="0.16">&gt; 0.1 okt.</text>
<text x="6" y="529.3" font-size="10.2" fill="#FF8000" textLength="57" lengthAdjust="spacing" stroke="#FF8000" stroke-width="0.16">Widzialność</text>
<text x="5.5" y="546.7" font-size="10.2" fill="#000" textLength="38.5" lengthAdjust="spacingAndGlyphs" stroke="#000" stroke-width="0.16">Chmury:</text>
<rect x="10" y="551" width="41" height="11.8" fill="#87CEFA"/>
<text x="11.5" y="559.8" font-size="10.2" fill="#fff" textLength="39" lengthAdjust="spacing" stroke="#fff" stroke-width="0.16">wysokie</text>
<text x="10" y="572.9" font-size="10.2" fill="#999" textLength="35" lengthAdjust="spacing" stroke="#999" stroke-width="0.16">średnie</text>
<text x="10" y="584.7" font-size="10.2" fill="#444" textLength="26" lengthAdjust="spacingAndGlyphs" stroke="#444" stroke-width="0.16">niskie</text>
<text x="10" y="596.6" font-size="10.2" fill="#222" textLength="61" lengthAdjust="spacing" stroke="#222" stroke-width="0.16">bardzo niskie</text>
<text x="5.5" y="608.6" font-size="10.2" fill="#FFB400" textLength="20.5" lengthAdjust="spacingAndGlyphs" stroke="#FFB400" stroke-width="0.16">Mgła</text>
<text x="5.6" y="625.8" font-size="10.6" fill="#000" textLength="131.5" lengthAdjust="spacing" stroke="#000" stroke-width="0.16">Czas uniwersalny (UTC)</text>
<text x="4.9" y="651" font-size="10.6" fill="#000" textLength="103.2" lengthAdjust="spacingAndGlyphs" font-weight="bold" stroke="#000" stroke-width="0.1">* powyżej poziomu morza</text>
<path d="M5.6 0v1.6" stroke="#000" stroke-width="1.2"/>
<rect x="349" y="149.5" width="28" height="511" fill="#E8E8E8"/>
<rect x="446.2" y="149.5" width="83.8" height="511" fill="#E8E8E8"/>
<rect x="599.2" y="149.5" width="83.8" height="511" fill="#E8E8E8"/>
<rect x="753" y="149.5" width="83" height="511" fill="#E8E8E8"/>
<text x="363.3" y="132.9" font-size="12.8" fill="#00008C" text-anchor="middle" textLength="146.5" lengthAdjust="spacingAndGlyphs" xml:space="preserve" stroke="#00008C" stroke-width="0.16">wschód słońca: 06:16 CET</text>
<text x="363.3" y="146.1" font-size="12.8" fill="#00008C" text-anchor="middle" textLength="143.5" lengthAdjust="spacingAndGlyphs" xml:space="preserve" stroke="#00008C" stroke-width="0.16">zachód słońca: 17:14 CET</text>
<text x="595.7" y="132.9" font-size="12.8" fill="#00008C" text-anchor="middle" textLength="128.2" lengthAdjust="spacingAndGlyphs" xml:space="preserve" stroke="#00008C" stroke-width="0.16">21°31'43"E, 53°44'52"N</text>
<text x="595.6" y="146.1" font-size="12.8" fill="#00008C" text-anchor="middle" textLength="81.8" lengthAdjust="spacingAndGlyphs" xml:space="preserve" stroke="#00008C" stroke-width="0.16">(x=258,  y=362)</text>
<text x="818.4" y="132.8" font-size="12.8" fill="#00008C" text-anchor="middle" textLength="159" lengthAdjust="spacingAndGlyphs" xml:space="preserve" stroke="#00008C" stroke-width="0.16">wysokość (min, środek, max)</text>
<text x="818.6" y="146.1" font-size="12.8" fill="#00008C" text-anchor="middle" textLength="96.8" lengthAdjust="spacingAndGlyphs" xml:space="preserve" stroke="#00008C" stroke-width="0.16">128 - 146 - 176 m</text>
<text x="418.7" y="161.9" font-size="14.6" fill="#000" text-anchor="middle" textLength="59" lengthAdjust="spacingAndGlyphs" xml:space="preserve" stroke="#000" stroke-width="0.16">wto, 03.03</text>
<text x="573.0" y="161.9" font-size="14.6" fill="#000" text-anchor="middle" textLength="56.5" lengthAdjust="spacingAndGlyphs" xml:space="preserve" stroke="#000" stroke-width="0.16">śro, 04.03</text>
<text x="726.6" y="161.9" font-size="14.6" fill="#000" text-anchor="middle" textLength="62" lengthAdjust="spacingAndGlyphs" xml:space="preserve" stroke="#000" stroke-width="0.16">czw, 05.03</text>
<text x="318.6" y="175.0" font-size="12.8" fill="#000" text-anchor="middle" textLength="23.7" lengthAdjust="spacingAndGlyphs" xml:space="preserve" stroke="#000" stroke-width="0.16">CET</text>
<text x="871.6" y="175.0" font-size="12.8" fill="#000" text-anchor="middle" textLength="23.7" lengthAdjust="spacingAndGlyphs" xml:space="preserve" stroke="#000" stroke-width="0.16">CET</text>
<text x="361.5" y="175.1" font-size="13.3" fill="#000" text-anchor="middle" textLength="13.2" lengthAdjust="spacingAndGlyphs" xml:space="preserve" stroke="#000" stroke-width="0.16">04</text>
<text x="399.9" y="175.1" font-size="13.3" fill="#000" text-anchor="middle" textLength="13.2" lengthAdjust="spacingAndGlyphs" xml:space="preserve" stroke="#000" stroke-width="0.16">10</text>
<text x="438.2" y="175.1" font-size="13.3" fill="#000" text-anchor="middle" textLength="13.2" lengthAdjust="spacingAndGlyphs" xml:space="preserve" stroke="#000" stroke-width="0.16">16</text>
<text x="476.5" y="175.1" font-size="13.3" fill="#000" text-anchor="middle" textLength="13.2" lengthAdjust="spacingAndGlyphs" xml:space="preserve" stroke="#000" stroke-width="0.16">22</text>
<text x="514.9" y="175.1" font-size="13.3" fill="#000" text-anchor="middle" textLength="13.2" lengthAdjust="spacingAndGlyphs" xml:space="preserve" stroke="#000" stroke-width="0.16">04</text>
<text x="553.2" y="175.1" font-size="13.3" fill="#000" text-anchor="middle" textLength="13.2" lengthAdjust="spacingAndGlyphs" xml:space="preserve" stroke="#000" stroke-width="0.16">10</text>
<text x="591.5" y="175.1" font-size="13.3" fill="#000" text-anchor="middle" textLength="13.2" lengthAdjust="spacingAndGlyphs" xml:space="preserve" stroke="#000" stroke-width="0.16">16</text>
<text x="629.9" y="175.1" font-size="13.3" fill="#000" text-anchor="middle" textLength="13.2" lengthAdjust="spacingAndGlyphs" xml:space="preserve" stroke="#000" stroke-width="0.16">22</text>
<text x="668.2" y="175.1" font-size="13.3" fill="#000" text-anchor="middle" textLength="13.2" lengthAdjust="spacingAndGlyphs" xml:space="preserve" stroke="#000" stroke-width="0.16">04</text>
<text x="706.5" y="175.1" font-size="13.3" fill="#000" text-anchor="middle" textLength="13.2" lengthAdjust="spacingAndGlyphs" xml:space="preserve" stroke="#000" stroke-width="0.16">10</text>
<text x="744.9" y="175.1" font-size="13.3" fill="#000" text-anchor="middle" textLength="13.2" lengthAdjust="spacingAndGlyphs" xml:space="preserve" stroke="#000" stroke-width="0.16">16</text>
<text x="783.2" y="175.1" font-size="13.3" fill="#000" text-anchor="middle" textLength="13.2" lengthAdjust="spacingAndGlyphs" xml:space="preserve" stroke="#000" stroke-width="0.16">22</text>
<text x="821.5" y="175.1" font-size="13.3" fill="#000" text-anchor="middle" textLength="13.2" lengthAdjust="spacingAndGlyphs" xml:space="preserve" stroke="#000" stroke-width="0.16">04</text>
<rect x="348.5" y="177.5" width="493.0" height="77.5" fill="#fff"/>
<rect x="349" y="177.5" width="28" height="77.5" fill="#E8E8E8"/>
<rect x="446.2" y="177.5" width="83.8" height="77.5" fill="#E8E8E8"/>
<rect x="599.2" y="177.5" width="83.8" height="77.5" fill="#E8E8E8"/>
<rect x="753" y="177.5" width="83" height="77.5" fill="#E8E8E8"/>
<g clip-path="url(#c_temp)">
<rect x="348.5" y="223.2" width="493.0" height="31.8" fill="#87CEFA"/>
<rect x="349" y="223.2" width="28" height="31.8" fill="#002" fill-opacity="0.085"/>
<rect x="446.2" y="223.2" width="83.8" height="31.8" fill="#002" fill-opacity="0.085"/>
<rect x="599.2" y="223.2" width="83.8" height="31.8" fill="#002" fill-opacity="0.085"/>
<rect x="753" y="223.2" width="83" height="31.8" fill="#002" fill-opacity="0.085"/>
<polygon points="349,208.2 352,207.92 355,207.65 358,207.38 361,207.1 364,207.25 367,207.4 370,207.55 373,207.7 376,207.44 379,206.36 382,205.28 385,204.2 388,203.3 391,202.4 394,202.67 397,203.54 400,204.4 403,203.61 406,202.32 409,201.03 412,200.08 415,199.3 418,198.52 421,197.87 424,197.38 427,196.89 430,196.4 433,196.4 436,196.4 439,196.59 442,198.01 445,199.43 448,202.07 451,204.25 454,205.42 457,206.72 460,208.23 463,209.71 466,211.18 469,212.66 472,213.93 475,215.09 478,216.04 481,216.85 484,217.66 487,217.95 490,218.09 493,217.91 496,217.76 499,217.87 502,217.98 505,217.11 508,215.82 511,215.84 514,216.01 517,216.93 520,218.23 523,220.21 526,222.58 529,225.21 532,228.3 535,230.46 538,232.01 541,233.32 544,232.47 547,231.63 550,230.62 553,229.6 556,229.14 559,228.81 562,228.17 565,227.37 568,227.08 571,227.22 574,228.09 577,229.8 580,231.16 583,231.42 586,230.82 589,228.47 592,226.68 595,227.1 598,228.17 601,228.3 604,228.44 607,229.79 610,231.21 613,232.09 616,232.81 619,234.33 622,236.25 625,238 628,239.56 631,240.68 634,240.92 637,241.14 640,241.29 643,241.43 646,241.24 649,241.06 652,240.84 655,240.61 658,240.12 661,239.55 664,239.23 667,239.04 670,238.84 673,238.6 676,238.47 679,238.56 682,238.59 685,238.48 688,238.39 691,238.61 694,238.83 697,238.63 700,238.38 703,236.73 706,234.67 709,231.58 712,228.33 715,224.75 718,221.3 721,218.23 724,215.71 727,213.58 730,213 733,212.55 736,212.9 739,213.29 742,213.95 745,214.61 748,217.03 751,219.64 754,221.79 757,223.52 760,225.17 763,226.89 766,228.35 769,229.53 772,230.65 775,231.68 778,232.55 781,233.06 784,233.53 787,233.71 790,233.9 793,233.9 796,233.9 799,233.62 802,233.3 805,232.35 808,231.13 811,229.35 814,227.14 817,225.59 820,224.37 823,224.38 826,225.46 829,226.41 832,226.52 835,226.6 838,226.6 841,226.6 841.4,226.6 841.4,231.3 841,231.3 838,231.29 835,231.29 832,231.2 829,231.09 826,230.13 823,229.04 820,229.02 817,230.23 814,231.78 811,233.98 808,235.75 805,236.97 802,237.91 799,238.23 796,238.5 793,238.49 790,238.49 787,238.29 784,238.1 781,237.63 778,237.11 775,236.23 772,235.19 769,234.07 766,232.89 763,231.41 760,229.69 757,228.04 754,226.47 751,224.82 748,222.94 745,221.37 742,221.04 739,220.71 736,220.65 733,220.64 730,221.54 727,222.62 724,225.25 721,228.26 718,230.85 715,233.33 712,235.93 709,238.66 706,241.22 703,242.75 700,243.88 697,244.21 694,244.5 691,244.37 688,244.23 685,244.41 682,244.6 679,244.76 676,244.91 673,245.27 670,245.75 667,246.2 664,246.62 661,247.18 658,247.98 655,248.71 652,249.19 649,249.66 646,250.09 643,250.52 640,250.63 637,250.72 634,250.75 631,250.76 628,250.11 625,249.13 622,247.96 619,246.63 616,245.19 613,243.56 610,241.76 607,239.42 604,237.15 601,235.53 598,233.9 595,232.84 592,232.43 589,234.23 586,236.58 583,237.19 580,236.93 577,235.58 574,233.88 571,233.02 568,232.88 565,233.18 562,233.98 559,234.63 556,234.96 553,235.44 550,236.46 547,237.48 544,238.33 541,239.18 538,237.88 535,236.34 532,234.18 529,231.85 526,229.97 523,228.36 520,227.14 517,226.35 514,225.93 511,226.27 508,226.76 505,227.87 502,228.56 499,228.28 496,227.99 493,227.97 490,227.98 487,227.66 484,227.19 481,226.21 478,225.03 475,223.59 472,221.97 469,220.28 466,219.63 463,218.98 460,218.32 457,217.62 454,216.74 451,215.72 448,214.05 445,212.38 442,211.45 439,211.18 436,210.91 433,211.28 430,212.07 427,212.87 424,213.75 421,214.78 418,215.64 415,216.37 412,216.98 409,217.26 406,217.29 403,217.08 400,216.5 397,214.1 394,212.5 391,212.5 388,212.5 385,214 382,215.5 379,215.57 376,214.92 373,214.57 370,214.37 367,214.56 364,214.94 361,215.42 358,216.07 355,216.43 352,216.21 349,216" fill="#C4E6FF"/>
<polygon points="349,201.1 352,201.23 355,201.37 358,201.5 361,201.63 364,201.6 367,201.54 370,201.47 373,201.41 376,201.35 379,201.29 382,200.98 385,200.54 388,200.11 391,199.67 394,198.92 397,198.01 400,197.1 403,195.81 406,194.41 409,193.01 412,191.6 415,190.18 418,188.77 421,187.72 424,187.1 427,186.48 430,186.07 433,186.05 436,186.04 439,186.13 442,186.89 445,187.65 448,188.86 451,190.29 454,191.73 457,193.17 460,194.5 463,195.79 466,197.08 469,198.37 472,199.38 475,200.25 478,200.95 481,201.5 484,202.06 487,202.23 490,202.36 493,202.49 496,202.64 499,202.95 502,203.27 505,202.72 508,201.79 511,200.73 514,199.63 517,199.81 520,200.63 523,202.23 526,204.54 529,206.6 532,208.24 535,209.59 538,209.96 541,210.16 544,208.8 547,207.45 550,206.78 553,206.13 556,205.74 559,205.41 562,204.71 565,203.82 568,203.4 571,203.4 574,204.09 577,205.57 580,206.7 583,206.7 586,206.65 589,206.12 592,205.84 595,206.55 598,207.26 601,208.92 604,210.81 607,212.39 610,213.94 613,215.16 616,216.29 619,217.31 622,218.28 625,219.22 628,220.11 631,220.86 634,221.33 637,221.67 640,221.53 643,221.38 646,220.87 649,220.35 652,219.5 655,218.61 658,217.79 661,216.99 664,216.5 667,216.17 670,215.89 673,215.66 676,215.47 679,215.38 682,215.25 685,215.02 688,214.79 691,214.56 694,214.32 697,213.79 700,213.23 703,211.65 706,209.75 709,207.19 712,204.52 715,201.98 718,199.58 721,197.37 724,195.39 727,193.73 730,193.39 733,193.17 736,193.67 739,194.32 742,195.95 745,197.58 748,199.49 751,201.44 754,203.06 757,204.62 760,206.14 763,207.61 766,209 769,210.28 772,211.43 775,212.41 778,213.4 781,214.42 784,215.43 787,216.42 790,217.4 793,218.06 796,218.71 799,218.8 802,218.8 805,218.34 808,217.68 811,216.89 814,216 817,215.58 820,215.39 823,215.34 826,215.43 829,215.49 832,215.38 835,215.3 838,215.3 841,215.3 841.4,215.3 841.4,221.1 841,221.1 838,221.1 835,221.1 832,221.18 829,221.29 826,221.23 823,221.14 820,221.19 817,221.38 814,221.8 811,222.69 808,223.48 805,224.14 802,224.6 799,224.6 796,224.51 793,223.86 790,223.2 787,222.22 784,221.23 781,220.22 778,219.2 775,218.21 772,217.23 769,216.08 766,214.8 763,213.54 760,212.24 757,210.91 754,209.53 751,208.25 748,206.92 745,205.64 742,204.63 739,203.42 736,202.77 733,202.27 730,202.49 727,202.83 724,204.49 721,206.32 718,208.08 715,210.03 712,212.12 709,214.34 706,216.45 703,217.9 700,219.03 697,219.59 694,220.12 691,220.36 688,220.59 685,220.82 682,221.05 679,221.17 676,221.27 673,221.46 670,221.69 667,221.97 664,222.3 661,222.79 658,223.59 655,224.41 652,225.3 649,226.15 646,226.67 643,227.18 640,227.33 637,227.47 634,227.12 631,226.66 628,225.91 625,225.02 622,224.08 619,223.11 616,222.09 613,220.96 610,219.74 607,218.19 604,216.61 601,214.72 598,213.06 595,212.35 592,211.64 589,211.92 586,212.45 583,212.5 580,212.5 577,211.37 574,209.89 571,209.2 568,209.2 565,209.62 562,210.51 559,211.21 556,211.54 553,211.93 550,212.58 547,213.25 544,214.6 541,215.96 538,215.76 535,215.39 532,214.04 529,212.4 526,210.34 523,208.03 520,206.43 517,205.63 514,205.47 511,206.6 508,207.69 505,208.64 502,209.21 499,208.92 496,208.63 493,208.51 490,208.4 487,208.29 484,208.15 481,207.62 478,207.08 475,206.41 472,205.56 469,205.14 466,204.07 463,202.99 460,201.92 457,201.08 454,200.73 451,200.67 448,201.17 445,201.56 442,201.75 439,201.94 436,202.2 433,202.5 430,202.8 427,203.1 424,203.55 421,204.3 418,205.06 415,205.83 412,206.66 409,207.62 406,208.49 403,209.26 400,209.96 397,210.35 394,210.74 391,211.11 388,211.48 385,211.9 382,212.35 379,212.07 376,211.42 373,211.2 370,211.2 367,211.2 364,211.2 361,210.5 358,208.4 355,206.91 352,206.66 349,206.4" fill="#FFDADA"/>
<polyline points="349,209.7 361,208.6 375,209.3 385,205.7 392,203.6 400.7,206.1 410,202.1 419.6,199.6 430,197.9 438.6,197.9 446,201.4 452,207.9 458,211.4 470,217.9 476.4,220.7 484.3,223.3 489.3,224 495.7,224 502.9,224.7 508.6,222.6 515,221.9 521.4,223.6 527.9,227.1 534.3,232.1 540.7,235.4 547.1,233.6 553.6,231.4 560,230.7 566.4,229 572.6,229.3 579.3,233.1 585,233.6 591.4,228.6 596.4,229.3 604.3,233.6 610.7,238.6 617.1,242.1 623.6,245 630,247.1 636.4,247.1 642.9,246.9 649.3,246 655.7,245 662.1,243.3 668.6,242.4 675,241.4 681.4,241.1 687.9,240.7 694.3,241 700.7,240.3 706.4,236.4 713.6,228.6 719.6,222.6 726.4,216.9 732.6,215.7 738.6,216.4 745.4,217.9 751.4,222.1 758.3,225.7 764.6,229.3 770.7,231.7 777.1,233.9 783.6,235 790,235.4 796.4,235.4 802.9,234.7 809.3,232.1 815,227.9 821.4,225.3 828.6,227.9 834.3,228.1 841.4,228.1" fill="none" stroke="#0000FF" stroke-width="2.1" stroke-linejoin="round"/>
<polyline points="349,204.7 361.4,205.3 380,205 392,203.3 400.7,200.7 410,196.4 419.6,191.9 429,190 438.6,190 446,191.9 457.9,197.1 470,201.8 476.4,203.6 484.3,205 495.7,205.4 502.9,206.1 508.6,204.3 515,201.9 521.4,203.6 527.9,208.6 534.3,212.1 540.7,212.9 547.1,210 553.6,208.6 560,207.9 566.4,206 572.6,206 579.3,209.3 585.7,209.3 591.4,208.3 598.6,210 604.3,213.6 610.7,216.9 617.1,219.3 623.6,221.4 630,223.3 636.4,224.3 642.9,224 649.3,222.9 655.7,221 662.1,219.3 668.6,218.6 675,218.1 681.4,217.9 687.9,217.4 694.3,216.9 700.7,215.7 706.4,212.1 713.6,205.7 719.6,200.9 726.4,196.4 732.6,195.7 738.6,196.7 745.4,200.4 751.4,204.3 758.3,207.9 764.6,211 770.7,213.6 777.1,215.7 783.6,217.9 790,220 796.4,221.4 802.9,221.4 809.3,220 815,218.3 821.4,217.9 828.6,218.1 834.3,217.9 841.4,217.9" fill="none" stroke="#FF0000" stroke-width="2.1" stroke-linejoin="round"/>
<path d="M355.5 202.9V216.4M361.5 203.6V215.7M368.5 203.6V216.1M374.5 203.6V216.1M380.5 203V215.8M387.5 199.3V216.4M393.5 197.6V216.4M400.5 193V215.8M406.5 186.4V215M412.5 184.7V214.3M419.5 183.6V213.8M425.5 184.3V213.6M432.5 184.3V213.3M438.5 187V213.3M444.5 190.7V213.3M451.5 195V213.6M457.5 197.1V212.9M464.5 200.7V213.6M470.5 202.9V213.3M476.5 204.3V213.6M483.5 206.1V213.6M489.5 206.4V213.6M495.5 206.4V212.9M502.5 207.1V215.3M508.5 203.6V214.3M515.5 200.7V213.6M521.5 207.1V214.3M527.5 208.6V215M534.5 210.5V215M540.5 208.1V214.3M547.5 203.3V212.9M553.5 198.6V211.4M559.5 199.3V212.1M566.5 196.4V210.7M572.5 199.3V210M579.5 202.4V210.4M585.5 203.3V210.4M591.5 205.7V210.7M598.5 209.6V216.4M604.5 210.7V222.9M610.5 211.4V222.9M617.5 211.4V225.7M623.5 211.4V227.1M630.5 212.1V227.1M636.5 212.4V228.6M642.5 213.3V227.9M649.5 213.6V225M655.5 213.3V223.6M662.5 213.3V221.4M668.5 213.6V220.7M674.5 213.3V220.7M681.5 213.3V220.4M687.5 213.6V220M694.5 212.9V218.6M700.5 209.3V216.4M706.5 203.6V212.1M713.5 191.4V212.4M719.5 186.4V211.4M726.5 182.9V207.1M732.5 185.3V208.6M738.5 190.4V207.6M745.5 196.4V207.9M751.5 202.9V208.6M757.5 205V211.4M764.5 207.1V213.6M770.5 207.6V215.7M777.5 208.1V217.9M783.5 208.1V219.3M789.5 208.1V220.7M796.5 208.1V222.1M802.5 208.1V222.1M809.5 208.1V220.7M815.5 208.1V219.6M821.5 208.6V218.6M828.5 209V220M834.5 209V219.3" stroke="#A52A2A" stroke-width="1" fill="none"/>
<circle cx="349.05" cy="205.4" r="1.7" fill="#6A5ACD" fill-opacity="0.8"/><circle cx="355.44" cy="205.8" r="1.7" fill="#6A5ACD" fill-opacity="0.8"/><circle cx="361.83" cy="206.1" r="1.7" fill="#6A5ACD" fill-opacity="0.8"/><circle cx="368.22" cy="206.1" r="1.7" fill="#6A5ACD" fill-opacity="0.8"/><circle cx="374.61" cy="206.1" r="1.7" fill="#6A5ACD" fill-opacity="0.8"/><circle cx="381" cy="205.8" r="1.7" fill="#6A5ACD" fill-opacity="0.8"/><circle cx="387.38" cy="205.4" r="1.7" fill="#6A5ACD" fill-opacity="0.8"/><circle cx="393.77" cy="203.7" r="1.7" fill="#6A5ACD" fill-opacity="0.8"/><circle cx="400.16" cy="201.5" r="1.7" fill="#6A5ACD" fill-opacity="0.8"/><circle cx="406.55" cy="199" r="1.7" fill="#6A5ACD" fill-opacity="0.8"/><circle cx="412.94" cy="196.8" r="1.7" fill="#6A5ACD" fill-opacity="0.8"/><circle cx="419.33" cy="196.1" r="1.7" fill="#6A5ACD" fill-opacity="0.8"/><circle cx="425.72" cy="193.7" r="1.7" fill="#6A5ACD" fill-opacity="0.8"/><circle cx="432.11" cy="193.3" r="1.7" fill="#6A5ACD" fill-opacity="0.8"/><circle cx="438.5" cy="192.8" r="1.7" fill="#6A5ACD" fill-opacity="0.8"/><circle cx="444.88" cy="193.3" r="1.7" fill="#6A5ACD" fill-opacity="0.8"/><circle cx="451.27" cy="196.1" r="1.7" fill="#6A5ACD" fill-opacity="0.8"/><circle cx="457.66" cy="199" r="1.7" fill="#6A5ACD" fill-opacity="0.8"/><circle cx="464.05" cy="201.8" r="1.7" fill="#6A5ACD" fill-opacity="0.8"/><circle cx="470.44" cy="204.4" r="1.7" fill="#6A5ACD" fill-opacity="0.8"/><circle cx="476.83" cy="206.5" r="1.7" fill="#6A5ACD" fill-opacity="0.8"/><circle cx="483.22" cy="207.8" r="1.7" fill="#6A5ACD" fill-opacity="0.8"/><circle cx="489.61" cy="208.3" r="1.7" fill="#6A5ACD" fill-opacity="0.8"/><circle cx="496" cy="208.5" r="1.7" fill="#6A5ACD" fill-opacity="0.8"/><circle cx="502.39" cy="209" r="1.7" fill="#6A5ACD" fill-opacity="0.8"/><circle cx="508.77" cy="206.5" r="1.7" fill="#6A5ACD" fill-opacity="0.8"/><circle cx="515.16" cy="202.5" r="1.7" fill="#6A5ACD" fill-opacity="0.8"/><circle cx="521.55" cy="209" r="1.7" fill="#6A5ACD" fill-opacity="0.8"/><circle cx="527.94" cy="213.3" r="1.7" fill="#6A5ACD" fill-opacity="0.8"/><circle cx="534.33" cy="218" r="1.7" fill="#6A5ACD" fill-opacity="0.8"/><circle cx="540.72" cy="221.5" r="1.7" fill="#6A5ACD" fill-opacity="0.8"/><circle cx="547.11" cy="222.5" r="1.7" fill="#6A5ACD" fill-opacity="0.8"/><circle cx="553.5" cy="223.3" r="1.7" fill="#6A5ACD" fill-opacity="0.8"/><circle cx="559.89" cy="222.5" r="1.7" fill="#6A5ACD" fill-opacity="0.8"/><circle cx="566.28" cy="223.7" r="1.7" fill="#6A5ACD" fill-opacity="0.8"/><circle cx="572.66" cy="223.3" r="1.7" fill="#6A5ACD" fill-opacity="0.8"/><circle cx="579.05" cy="222.8" r="1.7" fill="#6A5ACD" fill-opacity="0.8"/><circle cx="585.44" cy="225.1" r="1.7" fill="#6A5ACD" fill-opacity="0.8"/><circle cx="591.83" cy="224" r="1.7" fill="#6A5ACD" fill-opacity="0.8"/><circle cx="598.22" cy="222.5" r="1.7" fill="#6A5ACD" fill-opacity="0.8"/><circle cx="604.61" cy="224" r="1.7" fill="#6A5ACD" fill-opacity="0.8"/><circle cx="611" cy="224.3" r="1.7" fill="#6A5ACD" fill-opacity="0.8"/><circle cx="617.39" cy="225.1" r="1.7" fill="#6A5ACD" fill-opacity="0.8"/><circle cx="623.78" cy="226.8" r="1.7" fill="#6A5ACD" fill-opacity="0.8"/><circle cx="630.17" cy="228" r="1.7" fill="#6A5ACD" fill-opacity="0.8"/><circle cx="636.56" cy="228.5" r="1.7" fill="#6A5ACD" fill-opacity="0.8"/><circle cx="642.94" cy="227.1" r="1.7" fill="#6A5ACD" fill-opacity="0.8"/><circle cx="649.33" cy="225.1" r="1.7" fill="#6A5ACD" fill-opacity="0.8"/><circle cx="655.72" cy="224" r="1.7" fill="#6A5ACD" fill-opacity="0.8"/><circle cx="662.11" cy="222.3" r="1.7" fill="#6A5ACD" fill-opacity="0.8"/><circle cx="668.5" cy="221.4" r="1.7" fill="#6A5ACD" fill-opacity="0.8"/><circle cx="674.89" cy="220.8" r="1.7" fill="#6A5ACD" fill-opacity="0.8"/><circle cx="681.28" cy="220.4" r="1.7" fill="#6A5ACD" fill-opacity="0.8"/><circle cx="687.67" cy="220" r="1.7" fill="#6A5ACD" fill-opacity="0.8"/><circle cx="694.06" cy="219.7" r="1.7" fill="#6A5ACD" fill-opacity="0.8"/><circle cx="700.45" cy="219" r="1.7" fill="#6A5ACD" fill-opacity="0.8"/><circle cx="706.83" cy="218.5" r="1.7" fill="#6A5ACD" fill-opacity="0.8"/><circle cx="713.22" cy="217.5" r="1.7" fill="#6A5ACD" fill-opacity="0.8"/><circle cx="719.61" cy="216.4" r="1.7" fill="#6A5ACD" fill-opacity="0.8"/><circle cx="726" cy="213.7" r="1.7" fill="#6A5ACD" fill-opacity="0.8"/><circle cx="732.39" cy="213.3" r="1.7" fill="#6A5ACD" fill-opacity="0.8"/><circle cx="738.78" cy="213.7" r="1.7" fill="#6A5ACD" fill-opacity="0.8"/><circle cx="745.17" cy="213.7" r="1.7" fill="#6A5ACD" fill-opacity="0.8"/><circle cx="751.56" cy="213.7" r="1.7" fill="#6A5ACD" fill-opacity="0.8"/><circle cx="757.95" cy="215.7" r="1.7" fill="#6A5ACD" fill-opacity="0.8"/><circle cx="764.34" cy="217.3" r="1.7" fill="#6A5ACD" fill-opacity="0.8"/><circle cx="770.72" cy="219" r="1.7" fill="#6A5ACD" fill-opacity="0.8"/><circle cx="777.11" cy="220" r="1.7" fill="#6A5ACD" fill-opacity="0.8"/><circle cx="783.5" cy="221.1" r="1.7" fill="#6A5ACD" fill-opacity="0.8"/><circle cx="789.89" cy="221.5" r="1.7" fill="#6A5ACD" fill-opacity="0.8"/><circle cx="796.28" cy="221.8" r="1.7" fill="#6A5ACD" fill-opacity="0.8"/><circle cx="802.67" cy="221.8" r="1.7" fill="#6A5ACD" fill-opacity="0.8"/><circle cx="809.06" cy="220.4" r="1.7" fill="#6A5ACD" fill-opacity="0.8"/><circle cx="815.45" cy="218.5" r="1.7" fill="#6A5ACD" fill-opacity="0.8"/><circle cx="821.84" cy="218.3" r="1.7" fill="#6A5ACD" fill-opacity="0.8"/><circle cx="828.23" cy="218.3" r="1.7" fill="#6A5ACD" fill-opacity="0.8"/><circle cx="834.61" cy="218.3" r="1.7" fill="#6A5ACD" fill-opacity="0.8"/><circle cx="841" cy="218.3" r="1.7" fill="#6A5ACD" fill-opacity="0.8"/>
</g>
<path d="M348.5 177.5V255H841.5V177.5" fill="none" stroke="#000" stroke-width="1" shape-rendering="crispEdges"/>
<path d="M348 177.2H842" fill="none" stroke="#3c3c3c" stroke-width="1.3"/>
<path d="M361.5 178V255M380.5 178V255M400.5 178V255M419.5 178V255M438.5 178V255M457.5 178V255M476.5 178V255M495.5 178V255M515.5 178V255M534.5 178V255M553.5 178V255M572.5 178V255M591.5 178V255M610.5 178V255M630.5 178V255M649.5 178V255M668.5 178V255M687.5 178V255M706.5 178V255M726.5 178V255M745.5 178V255M764.5 178V255M783.5 178V255M802.5 178V255M821.5 178V255M348.5 194.5H841.5M348.5 223.5H841.5M348.5 251.5H841.5M348.5 177.5V255M841.5 177.5V255" stroke="#000" stroke-width="1" stroke-dasharray="2 2" fill="none" shape-rendering="crispEdges"/>
<rect x="348.5" y="263.5" width="493.0" height="78.0" fill="#fff"/>
<rect x="349" y="263.5" width="28" height="78.0" fill="#E8E8E8"/>
<rect x="446.2" y="263.5" width="83.8" height="78.0" fill="#E8E8E8"/>
<rect x="599.2" y="263.5" width="83.8" height="78.0" fill="#E8E8E8"/>
<rect x="753" y="263.5" width="83" height="78.0" fill="#E8E8E8"/>

<path d="M370.7 341.5v-2M377.6 341.5v-5M383.6 341.5v-2M390.7 341.5v-1M396.4 341.5v-2M402.4 341.5v-2M415.7 341.5v-1" stroke="#00B000" stroke-width="1" fill="none"/>
<polyline points="349.3,273.1 361.4,270.7 370.7,269.7 380.4,269.7 390.7,270.7 400.4,272.1 409.3,280.7 419.3,286.4 429.3,281.4 438.6,277.9 445,275.4 451.4,274.3 457.9,274.7 466.4,276.4 470,277.1 476.4,280 484.3,280.4 495.7,278.6 502.1,275.7 508.6,274 515.4,273.6 521.1,283.6 527.9,285 534.3,287.1 540.7,296.4 547.1,306.4 553.6,313.6 559.7,317.1 566.4,324 572.6,323.6 579,315 585.4,322.1 591.4,324.6 595,318.6 600,308.6 604.3,299.3 610.7,290 617.1,286.4 623.6,285.4 630,284.3 636.4,281.4 642.9,277.9 649.3,275.7 655.7,276 662.1,277.1 668.6,276.4 675,274.7 681.4,273.9 687.6,272.9 694.3,274.3 700.7,278.6 707.1,289.3 713.6,301.4 719.6,312 726.4,321.1 732.1,322.9 738.6,320 745.4,311.4 751.4,299.3 758.3,292.6 764.6,287.1 770.7,282.9 777.1,277.9 783.6,274.7 790,270.7 796.4,268.9 802.9,267.9 809.3,267.4 821.4,267.1 841.4,267.4" fill="none" stroke="#E8430A" stroke-width="1.7" stroke-linejoin="round" clip-path="url(#c_prec)"/>
<path d="M348.5 263.5V341.5H841.5V263.5" fill="none" stroke="#000" stroke-width="1" shape-rendering="crispEdges"/>
<path d="M348 263.2H842" fill="none" stroke="#3c3c3c" stroke-width="1.3"/>
<path d="M361.5 264V341.5M380.5 264V341.5M400.5 264V341.5M419.5 264V341.5M438.5 264V341.5M457.5 264V341.5M476.5 264V341.5M495.5 264V341.5M515.5 264V341.5M534.5 264V341.5M553.5 264V341.5M572.5 264V341.5M591.5 264V341.5M610.5 264V341.5M630.5 264V341.5M649.5 264V341.5M668.5 264V341.5M687.5 264V341.5M706.5 264V341.5M726.5 264V341.5M745.5 264V341.5M764.5 264V341.5M783.5 264V341.5M802.5 264V341.5M821.5 264V341.5M348.5 266.5H841.5M348.5 281.5H841.5M348.5 296.5H841.5M348.5 311.5H841.5M348.5 326.5H841.5M348.5 263.5V341.5M841.5 263.5V341.5" stroke="#000" stroke-width="1" stroke-dasharray="2 2" fill="none" shape-rendering="crispEdges"/>
<path d="M348.5 341.5H841.5" stroke="#031" stroke-width="1" shape-rendering="crispEdges"/>
<rect x="348.5" y="350.5" width="493.0" height="77.80000000000001" fill="#fff"/>
<rect x="349" y="350.5" width="28" height="77.80000000000001" fill="#E8E8E8"/>
<rect x="446.2" y="350.5" width="83.8" height="77.80000000000001" fill="#E8E8E8"/>
<rect x="599.2" y="350.5" width="83.8" height="77.80000000000001" fill="#E8E8E8"/>
<rect x="753" y="350.5" width="83" height="77.80000000000001" fill="#E8E8E8"/>
<g clip-path="url(#c_pres)">
<polygon points="349,428.3 349,368 361.4,368 365.3,368 365.3,428.3" fill="#FF3A00"/>
<polygon points="365,428.3 365,368 367.9,368 374.3,366.3 374.6,366.23 374.6,428.3" fill="#FF4A00"/>
<polygon points="374.3,428.3 374.3,366.3 380.4,364.9 390.7,363.4 400.4,362.4 409.3,363.1 419.3,363.9 419.6,363.93 419.6,428.3" fill="#F8220C"/>
<polygon points="419.3,428.3 419.3,363.9 425.7,364.6 438.6,368.1 447.9,370.1 457.9,372.7 458.2,372.74 458.2,428.3" fill="#FF4200"/>
<polygon points="457.9,428.3 457.9,372.7 463.6,373.4 470,373.5 476.4,374.1 484.3,376.3 495.3,379 495.3,428.3" fill="#FF6A00"/>
<polygon points="495,428.3 495,378.93 495.7,379.1 502.9,381.7 515,383.4 524.3,382.4 534.3,381.3 534.6,381.26 534.6,428.3" fill="#FF8C00"/>
<polygon points="534.3,428.3 534.3,381.3 547.1,379.6 559.7,378 572.6,377.3 579,377 585.4,377.3 591.4,377.7 600,378 604.3,378.1 610.7,378.4 617.1,377.7 621,377.1 621,428.3" fill="#FF6A00"/>
<polygon points="620.7,428.3 620.7,377.15 623.6,376.7 630,375.6 636.4,375.6 641,375.88 641,428.3" fill="#FF7208"/>
<polygon points="640.7,428.3 640.7,375.86 642.9,376 649.3,376.7 655.7,376.7 662.1,376 668.6,375.1 674.6,373.98 674.6,428.3" fill="#FF6A00"/>
<polygon points="674.3,428.3 674.3,374.03 675,373.9 681.4,372.4 687.6,371.3 694.3,370.1 700.7,369.4 707.1,368.7 713.6,368 713.9,368 713.9,428.3" fill="#FF4500"/>
<polygon points="713.6,428.3 713.6,368 726.4,368 732.6,368.7 738.6,369.1 745.4,369.1 751.4,368.7 764.6,367.3 777.1,365.1 783.3,364.43 783.3,428.3" fill="#FF3300"/>
<polygon points="783,428.3 783,364.46 783.6,364.4 796.4,362.4 802.9,361.7 809.3,361.6 821.4,361.3 828.6,359.6 835.7,357.7 841.5,356.3 841.8,356.3 841.8,428.3" fill="#FF1200"/>
</g>
<polyline points="349,368 361.4,368 367.9,368 374.3,366.3 380.4,364.9 390.7,363.4 400.4,362.4 409.3,363.1 419.3,363.9 425.7,364.6 438.6,368.1 447.9,370.1 457.9,372.7 463.6,373.4 470,373.5 476.4,374.1 484.3,376.3 495.7,379.1 502.9,381.7 515,383.4 524.3,382.4 534.3,381.3 547.1,379.6 559.7,378 572.6,377.3 579,377 585.4,377.3 591.4,377.7 600,378 604.3,378.1 610.7,378.4 617.1,377.7 623.6,376.7 630,375.6 636.4,375.6 642.9,376 649.3,376.7 655.7,376.7 662.1,376 668.6,375.1 675,373.9 681.4,372.4 687.6,371.3 694.3,370.1 700.7,369.4 707.1,368.7 713.6,368 726.4,368 732.6,368.7 738.6,369.1 745.4,369.1 751.4,368.7 764.6,367.3 777.1,365.1 783.6,364.4 796.4,362.4 802.9,361.7 809.3,361.6 821.4,361.3 828.6,359.6 835.7,357.7 841.5,356.3" fill="none" stroke="#000" stroke-width="1.8" stroke-linejoin="round" clip-path="url(#c_pres)"/>
<path d="M348.5 350.5V428.3H841.5V350.5" fill="none" stroke="#000" stroke-width="1" shape-rendering="crispEdges"/>
<path d="M348 350.2H842" fill="none" stroke="#3c3c3c" stroke-width="1.3"/>
<path d="M361.5 351V428.3M380.5 351V428.3M400.5 351V428.3M419.5 351V428.3M438.5 351V428.3M457.5 351V428.3M476.5 351V428.3M495.5 351V428.3M515.5 351V428.3M534.5 351V428.3M553.5 351V428.3M572.5 351V428.3M591.5 351V428.3M610.5 351V428.3M630.5 351V428.3M649.5 351V428.3M668.5 351V428.3M687.5 351V428.3M706.5 351V428.3M726.5 351V428.3M745.5 351V428.3M764.5 351V428.3M783.5 351V428.3M802.5 351V428.3M821.5 351V428.3M348.5 371.5H841.5M348.5 391.5H841.5M348.5 412.5H841.5M348.5 350.5V428.3M841.5 350.5V428.3" stroke="#000" stroke-width="1" stroke-dasharray="2 2" fill="none" shape-rendering="crispEdges"/>
<rect x="348.5" y="437.6" width="493.0" height="77.39999999999998" fill="#fff"/>
<rect x="349" y="437.6" width="28" height="77.39999999999998" fill="#E8E8E8"/>
<rect x="446.2" y="437.6" width="83.8" height="77.39999999999998" fill="#E8E8E8"/>
<rect x="599.2" y="437.6" width="83.8" height="77.39999999999998" fill="#E8E8E8"/>
<rect x="753" y="437.6" width="83" height="77.39999999999998" fill="#E8E8E8"/>
<g clip-path="url(#c_wind)">
<polygon points="349,515 349,508 355,508.3 361.4,509.4 367.9,509.7 374.3,509 380.4,509.7 386.4,511.9 393.6,511.9 400.4,508 406.4,507.6 412.9,506.6 419.3,505.7 425.7,505 432.1,505.9 438.6,505.9 444.6,504.7 444.6,515" fill="#00FFFF"/>
<polygon points="444.3,515 444.3,504.76 444.6,504.7 451.4,501.1 457.9,500.9 463.6,500 463.9,499.99 463.9,515" fill="#00BFFF"/>
<polygon points="463.6,515 463.6,500 470.4,499.7 476.4,499 483.1,498 489.6,497.9 496,498.3 502.4,499 508.6,498.6 515,493.3 515.3,493.38 515.3,515" fill="#0080FF"/>
<polygon points="515,515 515,493.3 521,494.99 521,515" fill="#004080"/>
<polygon points="520.7,515 520.7,494.9 521.4,495.1 527.9,497.6 534.3,497.3 540.3,494.86 540.3,515" fill="#0080FF"/>
<polygon points="540,515 540,494.98 540.7,494.7 547.1,492.9 553.6,492.3 559.7,491.9 566.4,491.1 572.6,490.1 579.3,490.1 585.4,489.7 591.4,495.4 591.7,495.49 591.7,515" fill="#004080"/>
<polygon points="591.4,515 591.4,495.4 596.4,496.9 598,497.4 604.3,496.9 610.7,497.1 617.1,496.4 623.6,495.4 630,494.7 636.4,497.6 642.9,497.6 649.3,496.9 655.7,495.9 662.1,495 668.6,494.3 668.9,494.33 668.9,515" fill="#0080FF"/>
<polygon points="668.6,515 668.6,494.3 674.6,494.96 674.6,515" fill="#004080"/>
<polygon points="674.3,515 674.3,494.92 675,495 681.4,495 681.4,515" fill="#0080FF"/>
<polygon points="681.1,515 681.1,495 681.4,495 687.9,494 694.3,492.3 700.7,491.1 707.1,490.4 713.6,490.4 719.3,490.9 726.4,491.9 732.6,492.9 738.2,493.93 738.2,515" fill="#004080"/>
<polygon points="737.9,515 737.9,493.87 738.6,494 745.4,496.9 751.4,498 758.3,498.6 763.9,499.58 763.9,515" fill="#0080FF"/>
<polygon points="763.6,515 763.6,499.53 764.6,499.7 770.7,500.9 777.1,501.1 783.6,502.6 790,504 796,504.94 796,515" fill="#00BFFF"/>
<polygon points="795.7,515 795.7,504.89 796.4,505 802.9,505.4 809.3,506.4 815.4,507.6 821.4,508.6 828.6,508 834.3,507.6 841.5,507.3 841.8,507.3 841.8,515" fill="#00FFFF"/>
</g>
<g clip-path="url(#c_wind)">
<polyline points="349,508 355,508.3 361.4,509.4 367.9,509.7 374.3,509 380.4,509.7 386.4,511.9 393.6,511.9 400.4,508 406.4,507.6 412.9,506.6 419.3,505.7 425.7,505 432.1,505.9 438.6,505.9 444.6,504.7 451.4,501.1 457.9,500.9 463.6,500 470.4,499.7 476.4,499 483.1,498 489.6,497.9 496,498.3 502.4,499 508.6,498.6 515,493.3 521.4,495.1 527.9,497.6 534.3,497.3 540.7,494.7 547.1,492.9 553.6,492.3 559.7,491.9 566.4,491.1 572.6,490.1 579.3,490.1 585.4,489.7 591.4,495.4 596.4,496.9 598,497.4 604.3,496.9 610.7,497.1 617.1,496.4 623.6,495.4 630,494.7 636.4,497.6 642.9,497.6 649.3,496.9 655.7,495.9 662.1,495 668.6,494.3 675,495 681.4,495 687.9,494 694.3,492.3 700.7,491.1 707.1,490.4 713.6,490.4 719.3,490.9 726.4,491.9 732.6,492.9 738.6,494 745.4,496.9 751.4,498 758.3,498.6 764.6,499.7 770.7,500.9 777.1,501.1 783.6,502.6 790,504 796.4,505 802.9,505.4 809.3,506.4 815.4,507.6 821.4,508.6 828.6,508 834.3,507.6 841.5,507.3" fill="none" stroke="#00009C" stroke-width="2" stroke-linejoin="round"/>
<path d="M349.05 498.5h6.39M355.44 498.5h6.39M361.83 501.5h6.39M368.22 503.5h6.39M374.61 502.5h6.39M381 504.5h6.39M387.38 498.5h6.39M393.77 493.5h6.39M400.16 491.5h6.39M406.55 488.5h6.39M412.94 486.5h6.39M419.33 486.5h6.39M425.72 488.5h6.39M432.11 488.5h6.39M438.5 487.5h6.39M444.88 483.5h6.39M451.27 482.5h6.39M457.66 478.5h6.39M464.05 476.5h6.39M470.44 476.5h6.39M476.83 475.5h6.39M483.22 474.5h6.39M489.61 474.5h6.39M496 475.5h6.39M502.39 474.5h6.39M508.77 461.5h6.39M515.16 461.5h6.39M521.55 468.5h6.39M527.94 468.5h6.39M534.33 461.5h6.39M540.72 457.5h6.39M547.11 458.5h6.39M553.5 455.5h6.39M559.89 452.5h6.39M566.28 450.5h6.39M572.66 450.5h6.39M579.05 451.5h6.39M585.44 453.5h6.39M591.83 463.5h6.39M598.22 466.5h6.39M604.61 468.5h6.39M611 465.5h6.39M617.39 465.5h6.39M623.78 461.5h6.39M630.17 461.5h6.39M636.56 465.5h6.39M642.94 470.5h6.39M649.33 468.5h6.39M655.72 464.5h6.39M662.11 463.5h6.39M668.5 462.5h6.39M674.89 462.5h6.39M681.28 460.5h6.39M687.67 456.5h6.39M694.06 455.5h6.39M700.45 455.5h6.39M706.83 453.5h6.39M713.22 453.5h6.39M719.61 453.5h6.39M726 454.5h6.39M732.39 456.5h6.39M738.78 461.5h6.39M745.17 468.5h6.39M751.56 470.5h6.39M757.95 473.5h6.39M764.34 475.5h6.39M770.72 477.5h6.39M777.11 478.5h6.39M783.5 480.5h6.39M789.89 483.5h6.39M796.28 487.5h6.39M802.67 487.5h6.39M809.06 490.5h6.39M815.45 493.5h6.39M821.84 494.5h6.39M828.23 493.5h6.39M834.61 492.5h6.39" stroke="#FF0000" stroke-width="1" fill="none"/>
</g>
<path d="M348.5 437.6V515H841.5V437.6" fill="none" stroke="#000" stroke-width="1" shape-rendering="crispEdges"/>
<path d="M348 437.3H842" fill="none" stroke="#3c3c3c" stroke-width="1.3"/>
<path d="M361.5 438.1V515M380.5 438.1V515M400.5 438.1V515M419.5 438.1V515M438.5 438.1V515M457.5 438.1V515M476.5 438.1V515M495.5 438.1V515M515.5 438.1V515M534.5 438.1V515M553.5 438.1V515M572.5 438.1V515M591.5 438.1V515M610.5 438.1V515M630.5 438.1V515M649.5 438.1V515M668.5 438.1V515M687.5 438.1V515M706.5 438.1V515M726.5 438.1V515M745.5 438.1V515M764.5 438.1V515M783.5 438.1V515M802.5 438.1V515M821.5 438.1V515M348.5 438.5H841.5M348.5 464.5H841.5M348.5 489.5H841.5M348.5 437.6V515M841.5 437.6V515" stroke="#000" stroke-width="1" stroke-dasharray="2 2" fill="none" shape-rendering="crispEdges"/>
<rect x="348.5" y="521.3" width="493.0" height="30.200000000000045" fill="#fff"/>
<rect x="349" y="521.3" width="28" height="30.200000000000045" fill="#E8E8E8"/>
<rect x="446.2" y="521.3" width="83.8" height="30.200000000000045" fill="#E8E8E8"/>
<rect x="599.2" y="521.3" width="83.8" height="30.200000000000045" fill="#E8E8E8"/>
<rect x="753" y="521.3" width="83" height="30.200000000000045" fill="#E8E8E8"/>
<g><path d="M344.67 531.92L349.9 537.15" stroke="#0000A0" stroke-width="1.4" fill="none"/><polygon points="353.43,540.68 348.06,538.99 351.74,535.31" fill="#0000A0"/><path d="M354.36 530.19L355.65 537.48" stroke="#0000A0" stroke-width="1.4" fill="none"/><polygon points="356.52,542.41 353.09,537.93 358.21,537.03" fill="#0000A0"/><path d="M357.44 531.92L362.68 537.15" stroke="#0000A0" stroke-width="1.4" fill="none"/><polygon points="366.21,540.68 360.84,538.99 364.52,535.31" fill="#0000A0"/><path d="M362.6 533.68L369.3 536.81" stroke="#0000A0" stroke-width="1.4" fill="none"/><polygon points="373.84,538.92 368.21,539.16 370.4,534.45" fill="#0000A0"/><path d="M368.62 534.7L375.77 536.61" stroke="#0000A0" stroke-width="1.4" fill="none"/><polygon points="380.59,537.9 375.09,539.12 376.44,534.1" fill="#0000A0"/><path d="M375.38 533.68L382.08 536.81" stroke="#0000A0" stroke-width="1.4" fill="none"/><polygon points="386.61,538.92 380.98,539.16 383.18,534.45" fill="#0000A0"/><path d="M382.63 540.29L388.3 535.53" stroke="#0000A0" stroke-width="1.4" fill="none"/><polygon points="392.13,532.31 389.97,537.52 386.63,533.54" fill="#0000A0"/><path d="M389.79 541.05L394.54 535.38" stroke="#0000A0" stroke-width="1.4" fill="none"/><polygon points="397.76,531.55 396.54,537.05 392.55,533.71" fill="#0000A0"/><path d="M396.18 541.05L400.93 535.38" stroke="#0000A0" stroke-width="1.4" fill="none"/><polygon points="404.15,531.55 402.93,537.05 398.94,533.71" fill="#0000A0"/><path d="M402.57 541.05L407.32 535.38" stroke="#0000A0" stroke-width="1.4" fill="none"/><polygon points="410.54,531.55 409.31,537.05 405.33,533.71" fill="#0000A0"/><path d="M408.95 541.05L413.71 535.38" stroke="#0000A0" stroke-width="1.4" fill="none"/><polygon points="416.93,531.55 415.7,537.05 411.72,533.71" fill="#0000A0"/><path d="M415.34 541.05L420.1 535.38" stroke="#0000A0" stroke-width="1.4" fill="none"/><polygon points="423.31,531.55 422.09,537.05 418.11,533.71" fill="#0000A0"/><path d="M421.73 541.05L426.49 535.38" stroke="#0000A0" stroke-width="1.4" fill="none"/><polygon points="429.7,531.55 428.48,537.05 424.5,533.71" fill="#0000A0"/><path d="M428.12 541.05L432.88 535.38" stroke="#0000A0" stroke-width="1.4" fill="none"/><polygon points="436.09,531.55 434.87,537.05 430.89,533.71" fill="#0000A0"/><path d="M434.51 541.05L439.27 535.38" stroke="#0000A0" stroke-width="1.4" fill="none"/><polygon points="442.48,531.55 441.26,537.05 437.28,533.71" fill="#0000A0"/><path d="M440.9 541.05L445.66 535.38" stroke="#0000A0" stroke-width="1.4" fill="none"/><polygon points="448.87,531.55 447.65,537.05 443.66,533.71" fill="#0000A0"/><path d="M447.29 541.05L452.05 535.38" stroke="#0000A0" stroke-width="1.4" fill="none"/><polygon points="455.26,531.55 454.04,537.05 450.05,533.71" fill="#0000A0"/><path d="M453.68 541.05L458.43 535.38" stroke="#0000A0" stroke-width="1.4" fill="none"/><polygon points="461.65,531.55 460.43,537.05 456.44,533.71" fill="#0000A0"/><path d="M459.3 540.29L464.97 535.53" stroke="#0000A0" stroke-width="1.4" fill="none"/><polygon points="468.8,532.31 466.64,537.52 463.3,533.54" fill="#0000A0"/><path d="M465.69 540.29L471.36 535.53" stroke="#0000A0" stroke-width="1.4" fill="none"/><polygon points="475.19,532.31 473.03,537.52 469.69,533.54" fill="#0000A0"/><path d="M472.08 540.29L477.75 535.53" stroke="#0000A0" stroke-width="1.4" fill="none"/><polygon points="481.58,532.31 479.42,537.52 476.08,533.54" fill="#0000A0"/><path d="M477.74 539.21L484.28 535.74" stroke="#0000A0" stroke-width="1.4" fill="none"/><polygon points="488.69,533.39 485.5,538.03 483.06,533.44" fill="#0000A0"/><path d="M483.78 538.42L490.74 535.89" stroke="#0000A0" stroke-width="1.4" fill="none"/><polygon points="495.43,534.18 491.62,538.33 489.85,533.45" fill="#0000A0"/><path d="M489.89 537.38L497.18 536.09" stroke="#0000A0" stroke-width="1.4" fill="none"/><polygon points="502.1,535.22 497.63,538.65 496.73,533.53" fill="#0000A0"/><path d="M496.19 536.3L503.59 536.3" stroke="#0000A0" stroke-width="1.4" fill="none"/><polygon points="508.59,536.3 503.59,538.9 503.59,533.7" fill="#0000A0"/><path d="M502.79 534.7L509.93 536.61" stroke="#0000A0" stroke-width="1.4" fill="none"/><polygon points="514.76,537.9 509.26,539.12 510.61,534.1" fill="#0000A0"/><path d="M509.54 533.68L516.25 536.81" stroke="#0000A0" stroke-width="1.4" fill="none"/><polygon points="520.78,538.92 515.15,539.16 517.35,534.45" fill="#0000A0"/><path d="M516.18 533.2L522.59 536.9" stroke="#0000A0" stroke-width="1.4" fill="none"/><polygon points="526.92,539.4 521.29,539.15 523.89,534.65" fill="#0000A0"/><path d="M522.57 533.2L528.98 536.9" stroke="#0000A0" stroke-width="1.4" fill="none"/><polygon points="533.31,539.4 527.68,539.15 530.28,534.65" fill="#0000A0"/><path d="M528.96 533.2L535.37 536.9" stroke="#0000A0" stroke-width="1.4" fill="none"/><polygon points="539.7,539.4 534.07,539.15 536.67,534.65" fill="#0000A0"/><path d="M535.35 533.2L541.76 536.9" stroke="#0000A0" stroke-width="1.4" fill="none"/><polygon points="546.09,539.4 540.46,539.15 543.06,534.65" fill="#0000A0"/><path d="M541.74 533.2L548.15 536.9" stroke="#0000A0" stroke-width="1.4" fill="none"/><polygon points="552.48,539.4 546.85,539.15 549.45,534.65" fill="#0000A0"/><path d="M548.13 533.2L554.54 536.9" stroke="#0000A0" stroke-width="1.4" fill="none"/><polygon points="558.87,539.4 553.24,539.15 555.84,534.65" fill="#0000A0"/><path d="M554.52 533.2L560.93 536.9" stroke="#0000A0" stroke-width="1.4" fill="none"/><polygon points="565.26,539.4 559.63,539.15 562.23,534.65" fill="#0000A0"/><path d="M560.91 533.2L567.32 536.9" stroke="#0000A0" stroke-width="1.4" fill="none"/><polygon points="571.65,539.4 566.02,539.15 568.62,534.65" fill="#0000A0"/><path d="M567.3 533.2L573.7 536.9" stroke="#0000A0" stroke-width="1.4" fill="none"/><polygon points="578.03,539.4 572.4,539.15 575,534.65" fill="#0000A0"/><path d="M573.68 533.2L580.09 536.9" stroke="#0000A0" stroke-width="1.4" fill="none"/><polygon points="584.42,539.4 578.79,539.15 581.39,534.65" fill="#0000A0"/><path d="M580.07 533.2L586.48 536.9" stroke="#0000A0" stroke-width="1.4" fill="none"/><polygon points="590.81,539.4 585.18,539.15 587.78,534.65" fill="#0000A0"/><path d="M586.46 533.2L592.87 536.9" stroke="#0000A0" stroke-width="1.4" fill="none"/><polygon points="597.2,539.4 591.57,539.15 594.17,534.65" fill="#0000A0"/><path d="M592.85 533.2L599.26 536.9" stroke="#0000A0" stroke-width="1.4" fill="none"/><polygon points="603.59,539.4 597.96,539.15 600.56,534.65" fill="#0000A0"/><path d="M599.24 533.2L605.65 536.9" stroke="#0000A0" stroke-width="1.4" fill="none"/><polygon points="609.98,539.4 604.35,539.15 606.95,534.65" fill="#0000A0"/><path d="M605.63 533.2L612.04 536.9" stroke="#0000A0" stroke-width="1.4" fill="none"/><polygon points="616.37,539.4 610.74,539.15 613.34,534.65" fill="#0000A0"/><path d="M612.02 533.2L618.43 536.9" stroke="#0000A0" stroke-width="1.4" fill="none"/><polygon points="622.76,539.4 617.13,539.15 619.73,534.65" fill="#0000A0"/><path d="M618.41 533.2L624.82 536.9" stroke="#0000A0" stroke-width="1.4" fill="none"/><polygon points="629.15,539.4 623.52,539.15 626.12,534.65" fill="#0000A0"/><path d="M624.8 533.2L631.21 536.9" stroke="#0000A0" stroke-width="1.4" fill="none"/><polygon points="635.54,539.4 629.91,539.15 632.51,534.65" fill="#0000A0"/><path d="M631.19 533.2L637.59 536.9" stroke="#0000A0" stroke-width="1.4" fill="none"/><polygon points="641.92,539.4 636.29,539.15 638.89,534.65" fill="#0000A0"/><path d="M637.57 533.2L643.98 536.9" stroke="#0000A0" stroke-width="1.4" fill="none"/><polygon points="648.31,539.4 642.68,539.15 645.28,534.65" fill="#0000A0"/><path d="M644.58 532.31L650.25 537.07" stroke="#0000A0" stroke-width="1.4" fill="none"/><polygon points="654.08,540.29 648.58,539.06 651.92,535.08" fill="#0000A0"/><path d="M649.62 535.22L656.9 536.51" stroke="#0000A0" stroke-width="1.4" fill="none"/><polygon points="661.83,537.38 656.45,539.07 657.36,533.95" fill="#0000A0"/><path d="M656.01 535.22L663.29 536.51" stroke="#0000A0" stroke-width="1.4" fill="none"/><polygon points="668.22,537.38 662.84,539.07 663.74,533.95" fill="#0000A0"/><path d="M662.39 535.22L669.68 536.51" stroke="#0000A0" stroke-width="1.4" fill="none"/><polygon points="674.61,537.38 669.23,539.07 670.13,533.95" fill="#0000A0"/><path d="M669.27 533.68L675.98 536.81" stroke="#0000A0" stroke-width="1.4" fill="none"/><polygon points="680.51,538.92 674.88,539.16 677.08,534.45" fill="#0000A0"/><path d="M675.66 533.68L682.37 536.81" stroke="#0000A0" stroke-width="1.4" fill="none"/><polygon points="686.9,538.92 681.27,539.16 683.46,534.45" fill="#0000A0"/><path d="M682.05 533.68L688.75 536.81" stroke="#0000A0" stroke-width="1.4" fill="none"/><polygon points="693.29,538.92 687.66,539.16 689.85,534.45" fill="#0000A0"/><path d="M688.44 533.68L695.14 536.81" stroke="#0000A0" stroke-width="1.4" fill="none"/><polygon points="699.68,538.92 694.04,539.16 696.24,534.45" fill="#0000A0"/><path d="M694.83 533.68L701.53 536.81" stroke="#0000A0" stroke-width="1.4" fill="none"/><polygon points="706.06,538.92 700.43,539.16 702.63,534.45" fill="#0000A0"/><path d="M701.76 532.74L707.82 536.99" stroke="#0000A0" stroke-width="1.4" fill="none"/><polygon points="711.91,539.86 706.33,539.12 709.31,534.86" fill="#0000A0"/><path d="M708.14 532.74L714.21 536.99" stroke="#0000A0" stroke-width="1.4" fill="none"/><polygon points="718.3,539.86 712.71,539.12 715.7,534.86" fill="#0000A0"/><path d="M714.53 532.74L720.59 536.99" stroke="#0000A0" stroke-width="1.4" fill="none"/><polygon points="724.69,539.86 719.1,539.12 722.09,534.86" fill="#0000A0"/><path d="M720.92 532.74L726.98 536.99" stroke="#0000A0" stroke-width="1.4" fill="none"/><polygon points="731.08,539.86 725.49,539.12 728.48,534.86" fill="#0000A0"/><path d="M727.31 532.74L733.37 536.99" stroke="#0000A0" stroke-width="1.4" fill="none"/><polygon points="737.47,539.86 731.88,539.12 734.86,534.86" fill="#0000A0"/><path d="M734.17 532.15L739.67 537.1" stroke="#0000A0" stroke-width="1.4" fill="none"/><polygon points="743.39,540.45 737.93,539.04 741.41,535.17" fill="#0000A0"/><path d="M740.56 532.15L746.06 537.1" stroke="#0000A0" stroke-width="1.4" fill="none"/><polygon points="749.78,540.45 744.32,539.04 747.8,535.17" fill="#0000A0"/><path d="M746.95 532.15L752.45 537.1" stroke="#0000A0" stroke-width="1.4" fill="none"/><polygon points="756.16,540.45 750.71,539.04 754.19,535.17" fill="#0000A0"/><path d="M753.34 532.15L758.84 537.1" stroke="#0000A0" stroke-width="1.4" fill="none"/><polygon points="762.55,540.45 757.1,539.04 760.58,535.17" fill="#0000A0"/><path d="M759.73 532.15L765.23 537.1" stroke="#0000A0" stroke-width="1.4" fill="none"/><polygon points="768.94,540.45 763.49,539.04 766.97,535.17" fill="#0000A0"/><path d="M766.12 532.15L771.62 537.1" stroke="#0000A0" stroke-width="1.4" fill="none"/><polygon points="775.33,540.45 769.88,539.04 773.36,535.17" fill="#0000A0"/><path d="M772.51 532.15L778 537.1" stroke="#0000A0" stroke-width="1.4" fill="none"/><polygon points="781.72,540.45 776.27,539.04 779.74,535.17" fill="#0000A0"/><path d="M778.89 532.15L784.39 537.1" stroke="#0000A0" stroke-width="1.4" fill="none"/><polygon points="788.11,540.45 782.65,539.04 786.13,535.17" fill="#0000A0"/><path d="M785.28 532.15L790.78 537.1" stroke="#0000A0" stroke-width="1.4" fill="none"/><polygon points="794.5,540.45 789.04,539.04 792.52,535.17" fill="#0000A0"/><path d="M791.67 532.15L797.17 537.1" stroke="#0000A0" stroke-width="1.4" fill="none"/><polygon points="800.89,540.45 795.43,539.04 798.91,535.17" fill="#0000A0"/><path d="M797.59 532.74L803.65 536.99" stroke="#0000A0" stroke-width="1.4" fill="none"/><polygon points="807.75,539.86 802.16,539.12 805.14,534.86" fill="#0000A0"/><path d="M803.23 534.18L810.19 536.71" stroke="#0000A0" stroke-width="1.4" fill="none"/><polygon points="814.88,538.42 809.3,539.15 811.07,534.27" fill="#0000A0"/><path d="M809.26 535.98L816.65 536.36" stroke="#0000A0" stroke-width="1.4" fill="none"/><polygon points="821.64,536.62 816.51,538.96 816.78,533.77" fill="#0000A0"/><path d="M815.64 535.98L823.03 536.36" stroke="#0000A0" stroke-width="1.4" fill="none"/><polygon points="828.03,536.62 822.9,538.96 823.17,533.77" fill="#0000A0"/><path d="M822.03 535.98L829.42 536.36" stroke="#0000A0" stroke-width="1.4" fill="none"/><polygon points="834.42,536.62 829.29,538.96 829.56,533.77" fill="#0000A0"/><path d="M828.42 535.98L835.81 536.36" stroke="#0000A0" stroke-width="1.4" fill="none"/><polygon points="840.81,536.62 835.68,538.96 835.95,533.77" fill="#0000A0"/><path d="M834.81 535.98L842.2 536.36" stroke="#0000A0" stroke-width="1.4" fill="none"/><polygon points="847.19,536.62 842.07,538.96 842.34,533.77" fill="#0000A0"/></g>
<path d="M348.5 521.3V551.5H841.5V521.3" fill="none" stroke="#222" stroke-width="1" shape-rendering="crispEdges"/>
<path d="M348 521H842" fill="none" stroke="#3c3c3c" stroke-width="1.3"/>
<path d="M361.5 521.8V551.5M380.5 521.8V551.5M400.5 521.8V551.5M419.5 521.8V551.5M438.5 521.8V551.5M457.5 521.8V551.5M476.5 521.8V551.5M495.5 521.8V551.5M515.5 521.8V551.5M534.5 521.8V551.5M553.5 521.8V551.5M572.5 521.8V551.5M591.5 521.8V551.5M610.5 521.8V551.5M630.5 521.8V551.5M649.5 521.8V551.5M668.5 521.8V551.5M687.5 521.8V551.5M706.5 521.8V551.5M726.5 521.8V551.5M745.5 521.8V551.5M764.5 521.8V551.5M783.5 521.8V551.5M802.5 521.8V551.5M821.5 521.8V551.5M348.5 521.3V551.5M841.5 521.3V551.5" stroke="#000" stroke-width="1" stroke-dasharray="2 2" fill="none" shape-rendering="crispEdges"/>
<path d="M348.5 551.5H841.5" stroke="#666" stroke-width="1.4"/>
<rect x="348.5" y="558.2" width="493.0" height="77.79999999999995" fill="#87CEFA"/>
<rect x="349" y="558.2" width="28" height="77.79999999999995" fill="#000" fill-opacity="0.09"/>
<rect x="446.2" y="558.2" width="83.8" height="77.79999999999995" fill="#000" fill-opacity="0.09"/>
<rect x="599.2" y="558.2" width="83.8" height="77.79999999999995" fill="#000" fill-opacity="0.09"/>
<rect x="753" y="558.2" width="83" height="77.79999999999995" fill="#000" fill-opacity="0.09"/>
<g clip-path="url(#c_cbase)">
<circle cx="534.33" cy="617.3" r="2.85" fill="#B22222"/><circle cx="540.72" cy="615.1" r="2.85" fill="#B22222"/><circle cx="547.11" cy="612.9" r="2.85" fill="#B22222"/><circle cx="553.5" cy="612.1" r="2.85" fill="#B22222"/><circle cx="559.89" cy="611.4" r="2.85" fill="#B22222"/><circle cx="566.28" cy="611.4" r="2.85" fill="#B22222"/><circle cx="572.66" cy="611.4" r="2.85" fill="#B22222"/><circle cx="579.05" cy="611.4" r="2.85" fill="#B22222"/><circle cx="604.61" cy="612.9" r="2.85" fill="#B22222"/><circle cx="611" cy="615.7" r="2.85" fill="#B22222"/><circle cx="617.39" cy="617.3" r="2.85" fill="#B22222"/><circle cx="623.78" cy="617.3" r="2.85" fill="#B22222"/><circle cx="636.56" cy="619" r="2.85" fill="#B22222"/><circle cx="642.94" cy="619" r="2.85" fill="#B22222"/><circle cx="649.33" cy="619.4" r="2.85" fill="#B22222"/><circle cx="349.05" cy="631" r="2.85" fill="#FFFFFF"/><circle cx="349.05" cy="626" r="2.85" fill="#999999"/><circle cx="349.05" cy="613.3" r="2.85" fill="#000000"/><circle cx="355.44" cy="631.1" r="2.85" fill="#FFFFFF"/><circle cx="355.44" cy="629" r="2.85" fill="#CCCCCC"/><circle cx="355.44" cy="626.1" r="2.85" fill="#555555"/><circle cx="355.44" cy="621.9" r="2.85" fill="#000000"/><circle cx="361.83" cy="630.4" r="2.85" fill="#999999"/><circle cx="361.83" cy="628.3" r="2.85" fill="#555555"/><circle cx="361.83" cy="623.7" r="2.85" fill="#000000"/><circle cx="368.22" cy="630.4" r="2.85" fill="#555555"/><circle cx="368.22" cy="625.4" r="2.85" fill="#000000"/><circle cx="374.61" cy="630.9" r="2.85" fill="#000000"/><circle cx="381" cy="630.9" r="2.85" fill="#000000"/><circle cx="387.38" cy="630.9" r="2.85" fill="#000000"/><circle cx="393.77" cy="630.4" r="2.85" fill="#000000"/><circle cx="400.16" cy="630.4" r="2.85" fill="#000000"/><circle cx="406.55" cy="631.1" r="2.85" fill="#000000"/><circle cx="412.94" cy="630.7" r="2.85" fill="#555555"/><circle cx="412.94" cy="601.1" r="2.85" fill="#000000"/><circle cx="419.33" cy="631.1" r="2.85" fill="#CCCCCC"/><circle cx="419.33" cy="616.6" r="2.85" fill="#999999"/><circle cx="419.33" cy="606.9" r="2.85" fill="#555555"/><circle cx="419.33" cy="603.3" r="2.85" fill="#000000"/><circle cx="425.72" cy="630.9" r="2.85" fill="#FFFFFF"/><circle cx="425.72" cy="624.7" r="2.85" fill="#CCCCCC"/><circle cx="425.72" cy="611.1" r="2.85" fill="#999999"/><circle cx="425.72" cy="606.6" r="2.85" fill="#000000"/><circle cx="432.11" cy="630.9" r="2.85" fill="#FFFFFF"/><circle cx="432.11" cy="611.1" r="2.85" fill="#CCCCCC"/><circle cx="432.11" cy="608.3" r="2.85" fill="#999999"/><circle cx="432.11" cy="603.3" r="2.85" fill="#000000"/><circle cx="438.5" cy="630.9" r="2.85" fill="#FFFFFF"/><circle cx="438.5" cy="608.3" r="2.85" fill="#CCCCCC"/><circle cx="438.5" cy="604.7" r="2.85" fill="#000000"/><circle cx="444.88" cy="630.9" r="2.85" fill="#FFFFFF"/><circle cx="444.88" cy="605.1" r="2.85" fill="#999999"/><circle cx="444.88" cy="602.6" r="2.85" fill="#000000"/><circle cx="451.27" cy="630.9" r="2.85" fill="#FFFFFF"/><circle cx="451.27" cy="603.7" r="2.85" fill="#999999"/><circle cx="451.27" cy="601.9" r="2.85" fill="#555555"/><circle cx="457.66" cy="630.9" r="2.85" fill="#FFFFFF"/><circle cx="457.66" cy="603.7" r="2.85" fill="#CCCCCC"/><circle cx="464.05" cy="630.4" r="2.85" fill="#FFFFFF"/><circle cx="464.05" cy="603.7" r="2.85" fill="#CCCCCC"/><circle cx="470.44" cy="630.4" r="2.85" fill="#FFFFFF"/><circle cx="476.83" cy="630.4" r="2.85" fill="#FFFFFF"/><circle cx="483.22" cy="595.7" r="2.85" fill="#FFFFFF"/><circle cx="489.61" cy="630.4" r="2.85" fill="#FFFFFF"/><circle cx="496" cy="630.4" r="2.85" fill="#FFFFFF"/><circle cx="502.39" cy="630.4" r="2.85" fill="#FFFFFF"/><circle cx="502.39" cy="620.4" r="2.85" fill="#CCCCCC"/><circle cx="508.77" cy="631.1" r="2.85" fill="#FFFFFF"/><circle cx="508.77" cy="628.3" r="2.85" fill="#999999"/><circle cx="508.77" cy="625.4" r="2.85" fill="#555555"/><circle cx="508.77" cy="621.9" r="2.85" fill="#000000"/><circle cx="515.16" cy="630.4" r="2.85" fill="#999999"/><circle cx="515.16" cy="627.6" r="2.85" fill="#555555"/><circle cx="515.16" cy="624" r="2.85" fill="#000000"/><circle cx="521.55" cy="630.4" r="2.85" fill="#FFFFFF"/><circle cx="521.55" cy="628.3" r="2.85" fill="#CCCCCC"/><circle cx="521.55" cy="625.4" r="2.85" fill="#999999"/><circle cx="521.55" cy="621.1" r="2.85" fill="#000000"/><circle cx="527.94" cy="630.4" r="2.85" fill="#FFFFFF"/><circle cx="527.94" cy="628.3" r="2.85" fill="#CCCCCC"/><circle cx="527.94" cy="626.1" r="2.85" fill="#999999"/><circle cx="527.94" cy="623.3" r="2.85" fill="#555555"/><circle cx="534.33" cy="629.7" r="2.85" fill="#FFFFFF"/><circle cx="534.33" cy="626.9" r="2.85" fill="#999999"/><circle cx="534.33" cy="624" r="2.85" fill="#555555"/><circle cx="540.72" cy="629" r="2.85" fill="#FFFFFF"/><circle cx="540.72" cy="626.9" r="2.85" fill="#CCCCCC"/><circle cx="540.72" cy="624" r="2.85" fill="#999999"/><circle cx="540.72" cy="619.4" r="2.85" fill="#555555"/><circle cx="547.11" cy="627.6" r="2.85" fill="#FFFFFF"/><circle cx="547.11" cy="624" r="2.85" fill="#CCCCCC"/><circle cx="547.11" cy="619.7" r="2.85" fill="#999999"/><circle cx="547.11" cy="615.7" r="2.85" fill="#000000"/><circle cx="553.5" cy="627.1" r="2.85" fill="#FFFFFF"/><circle cx="553.5" cy="623.3" r="2.85" fill="#CCCCCC"/><circle cx="553.5" cy="619" r="2.85" fill="#999999"/><circle cx="553.5" cy="615.7" r="2.85" fill="#000000"/><circle cx="559.89" cy="625.4" r="2.85" fill="#FFFFFF"/><circle cx="559.89" cy="621.1" r="2.85" fill="#CCCCCC"/><circle cx="559.89" cy="618.3" r="2.85" fill="#999999"/><circle cx="559.89" cy="615.1" r="2.85" fill="#000000"/><circle cx="566.28" cy="624.7" r="2.85" fill="#FFFFFF"/><circle cx="566.28" cy="621.1" r="2.85" fill="#CCCCCC"/><circle cx="566.28" cy="618.3" r="2.85" fill="#999999"/><circle cx="566.28" cy="615.1" r="2.85" fill="#000000"/><circle cx="572.66" cy="624.7" r="2.85" fill="#FFFFFF"/><circle cx="572.66" cy="621.1" r="2.85" fill="#CCCCCC"/><circle cx="572.66" cy="618.3" r="2.85" fill="#999999"/><circle cx="572.66" cy="615.1" r="2.85" fill="#000000"/><circle cx="579.05" cy="626.9" r="2.85" fill="#FFFFFF"/><circle cx="579.05" cy="622.6" r="2.85" fill="#CCCCCC"/><circle cx="579.05" cy="619.7" r="2.85" fill="#999999"/><circle cx="579.05" cy="615.7" r="2.85" fill="#000000"/><circle cx="585.44" cy="624" r="2.85" fill="#FFFFFF"/><circle cx="585.44" cy="619.7" r="2.85" fill="#CCCCCC"/><circle cx="585.44" cy="614.7" r="2.85" fill="#000000"/><circle cx="591.83" cy="621.4" r="2.85" fill="#FFFFFF"/><circle cx="591.83" cy="614" r="2.85" fill="#555555"/><circle cx="598.22" cy="622.3" r="2.85" fill="#FFFFFF"/><circle cx="598.22" cy="614.7" r="2.85" fill="#555555"/><circle cx="604.61" cy="622.9" r="2.85" fill="#FFFFFF"/><circle cx="604.61" cy="615.7" r="2.85" fill="#999999"/><circle cx="611" cy="625.4" r="2.85" fill="#FFFFFF"/><circle cx="617.39" cy="628" r="2.85" fill="#FFFFFF"/><circle cx="623.78" cy="629" r="2.85" fill="#FFFFFF"/><circle cx="623.78" cy="623.6" r="2.85" fill="#CCCCCC"/><circle cx="630.17" cy="629.7" r="2.85" fill="#CCCCCC"/><circle cx="630.17" cy="626.9" r="2.85" fill="#999999"/><circle cx="630.17" cy="621.9" r="2.85" fill="#000000"/><circle cx="636.56" cy="629.7" r="2.85" fill="#CCCCCC"/><circle cx="636.56" cy="627.6" r="2.85" fill="#999999"/><circle cx="636.56" cy="623.6" r="2.85" fill="#000000"/><circle cx="642.94" cy="630.4" r="2.85" fill="#CCCCCC"/><circle cx="642.94" cy="627.6" r="2.85" fill="#999999"/><circle cx="642.94" cy="623.6" r="2.85" fill="#000000"/><circle cx="649.33" cy="630.4" r="2.85" fill="#FFFFFF"/><circle cx="649.33" cy="628.3" r="2.85" fill="#999999"/><circle cx="649.33" cy="624.7" r="2.85" fill="#555555"/><circle cx="655.72" cy="630.4" r="2.85" fill="#FFFFFF"/><circle cx="655.72" cy="629" r="2.85" fill="#CCCCCC"/><circle cx="655.72" cy="625.4" r="2.85" fill="#999999"/><circle cx="662.11" cy="629.7" r="2.85" fill="#CCCCCC"/><circle cx="662.11" cy="627.6" r="2.85" fill="#999999"/><circle cx="662.11" cy="623.3" r="2.85" fill="#000000"/><circle cx="668.5" cy="629" r="2.85" fill="#999999"/><circle cx="668.5" cy="625.1" r="2.85" fill="#000000"/><circle cx="674.89" cy="629" r="2.85" fill="#999999"/><circle cx="674.89" cy="625.1" r="2.85" fill="#000000"/><circle cx="681.28" cy="629.7" r="2.85" fill="#999999"/><circle cx="681.28" cy="626.6" r="2.85" fill="#000000"/><circle cx="687.67" cy="630.4" r="2.85" fill="#999999"/><circle cx="687.67" cy="627.3" r="2.85" fill="#000000"/><circle cx="694.06" cy="629.7" r="2.85" fill="#999999"/><circle cx="694.06" cy="626.1" r="2.85" fill="#000000"/><circle cx="700.45" cy="629" r="2.85" fill="#999999"/><circle cx="700.45" cy="625.1" r="2.85" fill="#000000"/><circle cx="706.83" cy="629.7" r="2.85" fill="#CCCCCC"/><circle cx="706.83" cy="627.6" r="2.85" fill="#999999"/><circle cx="706.83" cy="623.6" r="2.85" fill="#000000"/><circle cx="713.22" cy="628.3" r="2.85" fill="#CCCCCC"/><circle cx="713.22" cy="625.4" r="2.85" fill="#999999"/><circle cx="713.22" cy="621.1" r="2.85" fill="#000000"/><circle cx="719.61" cy="628.3" r="2.85" fill="#FFFFFF"/><circle cx="719.61" cy="626.1" r="2.85" fill="#CCCCCC"/><circle cx="719.61" cy="623.3" r="2.85" fill="#999999"/><circle cx="719.61" cy="619" r="2.85" fill="#000000"/><circle cx="726" cy="626.9" r="2.85" fill="#FFFFFF"/><circle cx="726" cy="623.3" r="2.85" fill="#CCCCCC"/><circle cx="726" cy="619.4" r="2.85" fill="#555555"/><circle cx="732.39" cy="624.7" r="2.85" fill="#FFFFFF"/><circle cx="732.39" cy="621.9" r="2.85" fill="#CCCCCC"/><circle cx="732.39" cy="619" r="2.85" fill="#999999"/><circle cx="738.78" cy="624.7" r="2.85" fill="#FFFFFF"/><circle cx="738.78" cy="621.1" r="2.85" fill="#CCCCCC"/><circle cx="738.78" cy="616.9" r="2.85" fill="#555555"/><circle cx="745.17" cy="625.4" r="2.85" fill="#FFFFFF"/><circle cx="745.17" cy="622.6" r="2.85" fill="#CCCCCC"/><circle cx="745.17" cy="619" r="2.85" fill="#555555"/><circle cx="751.56" cy="627.6" r="2.85" fill="#FFFFFF"/><circle cx="751.56" cy="624" r="2.85" fill="#999999"/><circle cx="751.56" cy="620" r="2.85" fill="#000000"/><circle cx="757.95" cy="630.4" r="2.85" fill="#FFFFFF"/><circle cx="757.95" cy="628.3" r="2.85" fill="#CCCCCC"/><circle cx="757.95" cy="625.4" r="2.85" fill="#999999"/><circle cx="757.95" cy="621.9" r="2.85" fill="#000000"/><circle cx="764.34" cy="629.7" r="2.85" fill="#999999"/><circle cx="764.34" cy="626.9" r="2.85" fill="#555555"/><circle cx="764.34" cy="623.3" r="2.85" fill="#000000"/><circle cx="770.72" cy="630.4" r="2.85" fill="#999999"/><circle cx="770.72" cy="627.6" r="2.85" fill="#555555"/><circle cx="770.72" cy="624.4" r="2.85" fill="#000000"/><circle cx="777.11" cy="630.4" r="2.85" fill="#999999"/><circle cx="777.11" cy="626.9" r="2.85" fill="#000000"/><circle cx="783.5" cy="628.3" r="2.85" fill="#000000"/><circle cx="789.89" cy="629.4" r="2.85" fill="#000000"/><circle cx="796.28" cy="630.1" r="2.85" fill="#000000"/><circle cx="802.67" cy="630.1" r="2.85" fill="#000000"/><circle cx="809.06" cy="630.1" r="2.85" fill="#000000"/><circle cx="815.45" cy="630.1" r="2.85" fill="#000000"/><circle cx="821.84" cy="630.1" r="2.85" fill="#000000"/><circle cx="828.23" cy="630.1" r="2.85" fill="#000000"/><circle cx="834.61" cy="630.1" r="2.85" fill="#000000"/><circle cx="841" cy="630.1" r="2.85" fill="#000000"/><circle cx="349.05" cy="567.5" r="2.85" fill="#B22222"/><circle cx="355.44" cy="567.5" r="2.85" fill="#B22222"/><circle cx="361.83" cy="567.5" r="2.85" fill="#B22222"/><circle cx="368.22" cy="567.5" r="2.85" fill="#B22222"/><circle cx="374.61" cy="567.5" r="2.85" fill="#B22222"/><circle cx="381" cy="567.5" r="2.85" fill="#B22222"/><circle cx="387.38" cy="567.5" r="2.85" fill="#B22222"/><circle cx="393.77" cy="565.4" r="2.85" fill="#B22222"/><circle cx="400.16" cy="565.4" r="2.85" fill="#B22222"/><circle cx="406.55" cy="565.4" r="2.85" fill="#B22222"/><circle cx="412.94" cy="565.4" r="2.85" fill="#B22222"/><circle cx="419.33" cy="565.4" r="2.85" fill="#B22222"/><circle cx="425.72" cy="565.4" r="2.85" fill="#B22222"/><circle cx="432.11" cy="565.4" r="2.85" fill="#B22222"/><circle cx="438.5" cy="565.4" r="2.85" fill="#B22222"/><circle cx="444.88" cy="565.4" r="2.85" fill="#B22222"/><circle cx="451.27" cy="565.4" r="2.85" fill="#B22222"/><circle cx="457.66" cy="565.4" r="2.85" fill="#B22222"/><circle cx="464.05" cy="565.4" r="2.85" fill="#B22222"/><circle cx="470.44" cy="565.4" r="2.85" fill="#B22222"/><circle cx="476.83" cy="567.5" r="2.85" fill="#B22222"/><circle cx="483.22" cy="567.5" r="2.85" fill="#B22222"/><circle cx="489.61" cy="567.5" r="2.85" fill="#B22222"/><circle cx="496" cy="567.5" r="2.85" fill="#B22222"/><circle cx="502.39" cy="568.3" r="2.85" fill="#B22222"/><circle cx="508.77" cy="567.5" r="2.85" fill="#B22222"/><circle cx="515.16" cy="567.5" r="2.85" fill="#B22222"/><circle cx="521.55" cy="567.5" r="2.85" fill="#B22222"/><circle cx="527.94" cy="568.6" r="2.85" fill="#B22222"/><circle cx="585.44" cy="568.6" r="2.85" fill="#B22222"/><circle cx="591.83" cy="568.6" r="2.85" fill="#B22222"/><circle cx="598.22" cy="568.6" r="2.85" fill="#B22222"/><circle cx="630.17" cy="569.7" r="2.85" fill="#B22222"/><circle cx="655.72" cy="569.7" r="2.85" fill="#B22222"/><circle cx="662.11" cy="569.7" r="2.85" fill="#B22222"/><circle cx="668.5" cy="568.6" r="2.85" fill="#B22222"/><circle cx="674.89" cy="568.6" r="2.85" fill="#B22222"/><circle cx="681.28" cy="568.6" r="2.85" fill="#B22222"/><circle cx="687.67" cy="568.6" r="2.85" fill="#B22222"/><circle cx="694.06" cy="568.6" r="2.85" fill="#B22222"/><circle cx="700.45" cy="568.6" r="2.85" fill="#B22222"/><circle cx="706.83" cy="568.6" r="2.85" fill="#B22222"/><circle cx="713.22" cy="568.6" r="2.85" fill="#B22222"/><circle cx="719.61" cy="568.6" r="2.85" fill="#B22222"/><circle cx="726" cy="568.6" r="2.85" fill="#B22222"/><circle cx="732.39" cy="568.6" r="2.85" fill="#B22222"/><circle cx="738.78" cy="568.6" r="2.85" fill="#B22222"/><circle cx="745.17" cy="568.6" r="2.85" fill="#B22222"/><circle cx="751.56" cy="568.6" r="2.85" fill="#B22222"/><circle cx="757.95" cy="567.5" r="2.85" fill="#B22222"/><circle cx="764.34" cy="567.5" r="2.85" fill="#B22222"/><circle cx="770.72" cy="567.5" r="2.85" fill="#B22222"/><circle cx="777.11" cy="565.7" r="2.85" fill="#B22222"/><circle cx="783.5" cy="565.7" r="2.85" fill="#B22222"/><circle cx="789.89" cy="565.7" r="2.85" fill="#B22222"/><circle cx="796.28" cy="565.7" r="2.85" fill="#B22222"/><circle cx="802.67" cy="565.7" r="2.85" fill="#B22222"/><circle cx="809.06" cy="565.7" r="2.85" fill="#B22222"/><circle cx="815.45" cy="565.7" r="2.85" fill="#B22222"/><circle cx="821.84" cy="565.7" r="2.85" fill="#B22222"/><circle cx="828.23" cy="565.7" r="2.85" fill="#B22222"/><circle cx="834.61" cy="565.7" r="2.85" fill="#B22222"/><circle cx="841" cy="565.7" r="2.85" fill="#B22222"/>
<polyline points="349.3,591.4 355.4,585.7 361.9,592.6 368.3,594 374.3,602.6 380.4,604.3 386.4,630.4 390.7,632.3 400.4,632.6 406.4,629 412.9,611.1 419.3,596.6 425.4,595.7 432.1,596.1 438.6,598.6 445,599.7 451.4,600.4 457.9,600.9 463.6,600 470.4,599.7 476.4,596.9 483,596.9 495.7,596.1 508.6,596.3 515,596.6 521.4,589.7 527.9,585.4 534.3,583.3 540.7,576.9 547.1,575.4 553.6,574.7 566.4,574 572.6,574.3 579.3,575 585.4,574.4 591.4,574 597,575.4 604.3,577.1 610.7,579.7 617.1,582.6 623.6,581.6 630,579.7 636.4,580 642.9,582.1 649.3,584.4 655.7,584.4 662.1,583.3 668.6,584.3 674.7,585.4 681.4,587.9 687.9,590.9 694.3,588.3 700.7,580.4 706.9,577.6 713.3,575.7 719.6,575.1 726.4,575 738.4,575.4 745.4,576.1 751.4,576.9 757.6,577.6 764,578.6 770.3,583.3 776.7,585.4 783.1,595.4 786.4,611.1 789.4,631.1 795.9,633.3 841.4,633.7" fill="none" stroke="#FF9500" stroke-width="2.1" stroke-linejoin="round"/>
</g>
<path d="M348.5 558.2V636H841.5V558.2" fill="none" stroke="#000" stroke-width="1" shape-rendering="crispEdges"/>
<path d="M348 557.9H842" fill="none" stroke="#3c3c3c" stroke-width="1.3"/>
<path d="M361.5 558.7V636M380.5 558.7V636M400.5 558.7V636M419.5 558.7V636M438.5 558.7V636M457.5 558.7V636M476.5 558.7V636M495.5 558.7V636M515.5 558.7V636M534.5 558.7V636M553.5 558.7V636M572.5 558.7V636M591.5 558.7V636M610.5 558.7V636M630.5 558.7V636M649.5 558.7V636M668.5 558.7V636M687.5 558.7V636M706.5 558.7V636M726.5 558.7V636M745.5 558.7V636M764.5 558.7V636M783.5 558.7V636M802.5 558.7V636M821.5 558.7V636M348.5 559.5H841.5M348.5 577.5H841.5M348.5 597.5H841.5M348.5 616.5H841.5M348.5 635.5H841.5M348.5 558.2V636M841.5 558.2V636" stroke="#000" stroke-width="1" stroke-dasharray="2 2" fill="none" shape-rendering="crispEdges"/>
<rect x="348.5" y="645.5" width="493.0" height="19.5" fill="#87CEFA"/>
<rect x="349" y="645.5" width="28" height="19.5" fill="#000" fill-opacity="0.09"/>
<rect x="446.2" y="645.5" width="83.8" height="19.5" fill="#000" fill-opacity="0.09"/>
<rect x="599.2" y="645.5" width="83.8" height="19.5" fill="#000" fill-opacity="0.09"/>
<rect x="753" y="645.5" width="83" height="19.5" fill="#000" fill-opacity="0.09"/>
<polygon points="349,660 349,648.6 355,647.6 362,646.3 401.4,646.3 405.7,649 410,646.3 438.6,646.3 441,649 443.5,654 446.5,660" fill="#555555"/>
<polygon points="508.3,660 508.6,646.3 517,646.3 520,649.5 523,654 527,660" fill="#555555"/>
<polygon points="534.3,660 534.3,658.3 541.4,656.5 545,651 548,647.8 553,646.3 586.4,646.3 588,652 590,660" fill="#555555"/>
<polygon points="652,660 656,655.5 661,650 666.5,646.5 709.3,646.5 714,649.5 718,654 722.5,660" fill="#555555"/>
<polygon points="678,660 683,657 688,654.2 693,657 698,660" fill="#444444"/>
<polygon points="748.6,660 750,654 753,650.5 763,647.5 770,646.3 841.5,646.3 841.5,660" fill="#555555"/>
<polygon points="781,660 784,652 788,648.5 795,646.3 841.5,646.3 841.5,660" fill="#3C3C3C"/>
<path d="M796.4 660v-1M802 660v-1.5M809.3 660v-2M815.4 660v-7M821.4 660v-4M828.6 660v-7M834.3 660v-9M840.5 660v-2" stroke="#FFB400" stroke-width="2" fill="none"/>
<path d="M348.5 645.5V665H841.5V645.5" fill="none" stroke="#000" stroke-width="1" shape-rendering="crispEdges"/>
<path d="M348 645.2H842" fill="none" stroke="#3c3c3c" stroke-width="1.3"/>
<path d="M361.5 646V665M380.5 646V665M400.5 646V665M419.5 646V665M438.5 646V665M457.5 646V665M476.5 646V665M495.5 646V665M515.5 646V665M534.5 646V665M553.5 646V665M572.5 646V665M591.5 646V665M610.5 646V665M630.5 646V665M649.5 646V665M668.5 646V665M687.5 646V665M706.5 646V665M726.5 646V665M745.5 646V665M764.5 646V665M783.5 646V665M802.5 646V665M821.5 646V665M348.5 645.5V665M841.5 645.5V665" stroke="#000" stroke-width="1" stroke-dasharray="2 2" fill="none" shape-rendering="crispEdges"/>
<text x="344.6" y="198.2" font-size="10.8" fill="#000" text-anchor="end" stroke="#000" stroke-width="0.16">5</text>
<text x="853.3" y="198.2" font-size="10.8" fill="#000" text-anchor="middle" stroke="#000" stroke-width="0.16">5</text>
<text x="344.6" y="226.8" font-size="10.8" fill="#000" text-anchor="end" stroke="#000" stroke-width="0.16">0</text>
<text x="853.3" y="226.8" font-size="10.8" fill="#000" text-anchor="middle" stroke="#000" stroke-width="0.16">0</text>
<text x="344.6" y="255.4" font-size="10.8" fill="#000" text-anchor="end" stroke="#000" stroke-width="0.16">-5</text>
<text x="853.3" y="255.4" font-size="10.8" fill="#000" text-anchor="middle" stroke="#000" stroke-width="0.16">-5</text>
<text x="344.6" y="271" font-size="10.8" fill="#000" text-anchor="end" stroke="#000" stroke-width="0.16">5</text>
<text x="344.6" y="286" font-size="10.8" fill="#000" text-anchor="end" stroke="#000" stroke-width="0.16">4</text>
<text x="344.6" y="301" font-size="10.8" fill="#000" text-anchor="end" stroke="#000" stroke-width="0.16">3</text>
<text x="344.6" y="316" font-size="10.8" fill="#000" text-anchor="end" stroke="#000" stroke-width="0.16">2</text>
<text x="344.6" y="331" font-size="10.8" fill="#000" text-anchor="end" stroke="#000" stroke-width="0.16">1</text>
<text x="344.6" y="346" font-size="10.8" fill="#000" text-anchor="end" stroke="#000" stroke-width="0.16">0</text>
<text x="853.6" y="271" font-size="10.8" fill="#E8430A" text-anchor="middle" stroke="#E8430A" stroke-width="0.16">100</text>
<text x="853.6" y="286" font-size="10.8" fill="#E8430A" text-anchor="middle" stroke="#E8430A" stroke-width="0.16">95</text>
<text x="853.6" y="301" font-size="10.8" fill="#E8430A" text-anchor="middle" stroke="#E8430A" stroke-width="0.16">90</text>
<text x="853.6" y="316" font-size="10.8" fill="#E8430A" text-anchor="middle" stroke="#E8430A" stroke-width="0.16">85</text>
<text x="853.6" y="331" font-size="10.8" fill="#E8430A" text-anchor="middle" stroke="#E8430A" stroke-width="0.16">80</text>
<text x="853.6" y="346" font-size="10.8" fill="#E8430A" text-anchor="middle" stroke="#E8430A" stroke-width="0.16">75</text>
<text x="344.6" y="355" font-size="10.8" fill="#000" text-anchor="end" stroke="#000" stroke-width="0.16">1030</text>
<text x="344.6" y="375.5" font-size="10.8" fill="#000" text-anchor="end" stroke="#000" stroke-width="0.16">1025</text>
<text x="344.6" y="395.8" font-size="10.8" fill="#000" text-anchor="end" stroke="#000" stroke-width="0.16">1020</text>
<text x="344.6" y="416.3" font-size="10.8" fill="#000" text-anchor="end" stroke="#000" stroke-width="0.16">1015</text>
<text x="845" y="355" font-size="10.8" fill="#000" stroke="#000" stroke-width="0.16">772</text>
<text x="845" y="375.5" font-size="10.8" fill="#000" stroke="#000" stroke-width="0.16">769</text>
<text x="845" y="395.5" font-size="10.8" fill="#000" stroke="#000" stroke-width="0.16">765</text>
<text x="845" y="415.6" font-size="10.8" fill="#000" stroke="#000" stroke-width="0.16">761</text>
<text x="344.6" y="442.3" font-size="10.8" fill="#000" text-anchor="end" stroke="#000" stroke-width="0.16">15</text>
<text x="344.6" y="468.3" font-size="10.8" fill="#000" text-anchor="end" stroke="#000" stroke-width="0.16">10</text>
<text x="344.6" y="493.7" font-size="10.8" fill="#000" text-anchor="end" stroke="#000" stroke-width="0.16">5</text>
<text x="344.6" y="519.3" font-size="10.8" fill="#000" text-anchor="end" stroke="#000" stroke-width="0.16">0</text>
<text x="845" y="442.3" font-size="10.8" fill="#000" stroke="#000" stroke-width="0.16">54</text>
<text x="845" y="467.6" font-size="10.8" fill="#000" stroke="#000" stroke-width="0.16">36</text>
<text x="845" y="492.8" font-size="10.8" fill="#000" stroke="#000" stroke-width="0.16">18</text>
<text x="847.4" y="517.4" font-size="10.8" fill="#000" stroke="#000" stroke-width="0.16">0</text>
<text x="344.4" y="562.3" font-size="10.8" fill="#000" text-anchor="end" stroke="#000" stroke-width="0.16">15.0</text>
<text x="344.4" y="582" font-size="10.8" fill="#000" text-anchor="end" stroke="#000" stroke-width="0.16">7.0</text>
<text x="344.4" y="601.3" font-size="10.8" fill="#000" text-anchor="end" stroke="#000" stroke-width="0.16">2.0</text>
<text x="344.4" y="620.6" font-size="10.8" fill="#000" text-anchor="end" stroke="#000" stroke-width="0.16">0.5</text>
<text x="344.4" y="639.8" font-size="10.8" fill="#000" text-anchor="end" stroke="#000" stroke-width="0.16">0.0</text>
<text x="344.4" y="649.6" font-size="10.8" fill="#000" text-anchor="end" stroke="#000" stroke-width="0.16">8</text>
<text x="844.6" y="561.9" font-size="10.8" fill="#FF8000" stroke="#FF8000" stroke-width="0.16">100</text>
<text x="844.6" y="581.6" font-size="10.8" fill="#FF8000" stroke="#FF8000" stroke-width="0.16">20</text>
<text x="844.6" y="601" font-size="10.8" fill="#FF8000" stroke="#FF8000" stroke-width="0.16">5</text>
<text x="844.6" y="620.8" font-size="10.8" fill="#FF8000" stroke="#FF8000" stroke-width="0.16">1</text>
<text x="844.6" y="639.6" font-size="10.8" fill="#FF8000" stroke="#FF8000" stroke-width="0.16">0</text>
<text x="844.6" y="649.8" font-size="10.8" fill="#FF8000" stroke="#FF8000" stroke-width="0.16">1</text>
<text x="292.6" y="216.5" font-size="12" fill="#00008C" text-anchor="middle" transform="rotate(-90 292.6 216.5)" textLength="66" lengthAdjust="spacing" stroke="#00008C" stroke-width="0.16">temperatura</text>
<text x="305.2" y="216.5" font-size="12" fill="#00008C" text-anchor="middle" transform="rotate(-90 305.2 216.5)" stroke="#00008C" stroke-width="0.16">(°C)</text>
<text x="292.6" y="305" font-size="12" fill="#00008C" text-anchor="middle" transform="rotate(-90 292.6 305)" stroke="#00008C" stroke-width="0.16">opad</text>
<text x="305.2" y="305" font-size="12" fill="#00008C" text-anchor="middle" transform="rotate(-90 305.2 305)" textLength="84" lengthAdjust="spacingAndGlyphs" stroke="#00008C" stroke-width="0.16">(mm/h, kg/m²/h)</text>
<text x="292.8" y="393" font-size="12" fill="#00008C" text-anchor="middle" transform="rotate(-90 292.8 393)" textLength="48.5" lengthAdjust="spacing" stroke="#00008C" stroke-width="0.16">ciśnienie</text>
<text x="305.2" y="393" font-size="12" fill="#00008C" text-anchor="middle" transform="rotate(-90 305.2 393)" stroke="#00008C" stroke-width="0.16">(hPa)</text>
<text x="292.6" y="481" font-size="12" fill="#00008C" text-anchor="middle" transform="rotate(-90 292.6 481)" stroke="#00008C" stroke-width="0.16">wiatr</text>
<text x="305.2" y="481.5" font-size="12" fill="#00008C" text-anchor="middle" transform="rotate(-90 305.2 481.5)" stroke="#00008C" stroke-width="0.16">(m/s)</text>
<text x="292.6" y="595.5" font-size="12" fill="#00008C" text-anchor="middle" transform="rotate(-90 292.6 595.5)" textLength="103" lengthAdjust="spacingAndGlyphs" stroke="#00008C" stroke-width="0.16">pion. rozciągł. chm.</text>
<text x="305.8" y="594.6" font-size="12" fill="#00008C" text-anchor="middle" transform="rotate(-90 305.8 594.6)" stroke="#00008C" stroke-width="0.16">(km)</text>
<text x="292.6" y="702.5" font-size="12" fill="#00008C" text-anchor="middle" transform="rotate(-90 292.6 702.5)" textLength="96" lengthAdjust="spacing" stroke="#00008C" stroke-width="0.16">zachmurzenie</text>
<text x="905.6" y="216.5" font-size="12" fill="#00008C" text-anchor="middle" transform="rotate(-90 905.6 216.5)" textLength="66" lengthAdjust="spacing" stroke="#00008C" stroke-width="0.16">temperatura</text>
<text x="893.2" y="216.5" font-size="12" fill="#00008C" text-anchor="middle" transform="rotate(-90 893.2 216.5)" stroke="#00008C" stroke-width="0.16">(°C)</text>
<text x="905.6" y="306.5" font-size="12" fill="#00008C" text-anchor="middle" transform="rotate(-90 905.6 306.5)" textLength="90" lengthAdjust="spacing" stroke="#00008C" stroke-width="0.16">wilgotność wzgl.</text>
<text x="893.2" y="305" font-size="12" fill="#00008C" text-anchor="middle" transform="rotate(-90 893.2 305)" stroke="#00008C" stroke-width="0.16">(%)</text>
<text x="905.6" y="393" font-size="12" fill="#00008C" text-anchor="middle" transform="rotate(-90 905.6 393)" stroke="#00008C" stroke-width="0.16">ciśnienie</text>
<text x="893.2" y="393" font-size="12" fill="#00008C" text-anchor="middle" transform="rotate(-90 893.2 393)" stroke="#00008C" stroke-width="0.16">(mm Hg)</text>
<text x="905.6" y="481" font-size="12" fill="#00008C" text-anchor="middle" transform="rotate(-90 905.6 481)" stroke="#00008C" stroke-width="0.16">wiatr</text>
<text x="893.2" y="481" font-size="12" fill="#00008C" text-anchor="middle" transform="rotate(-90 893.2 481)" stroke="#00008C" stroke-width="0.16">(km/h)</text>
<text x="905.6" y="595.5" font-size="12" fill="#00008C" text-anchor="middle" transform="rotate(-90 905.6 595.5)" textLength="63" lengthAdjust="spacing" stroke="#00008C" stroke-width="0.16">widzialność</text>
<text x="893.2" y="594" font-size="12" fill="#00008C" text-anchor="middle" transform="rotate(-90 893.2 594)" stroke="#00008C" stroke-width="0.16">(km)</text>
<text x="294.7" y="531.1" font-size="12" fill="#00008C" textLength="7.4" lengthAdjust="spacingAndGlyphs" stroke="#00008C" stroke-width="0.16">N</text>
<text x="284.1" y="539.8" font-size="12" fill="#00008C" textLength="11.2" lengthAdjust="spacingAndGlyphs" stroke="#00008C" stroke-width="0.16">W</text>
<text x="302.1" y="539.8" font-size="12" fill="#00008C" textLength="6.2" lengthAdjust="spacingAndGlyphs" stroke="#00008C" stroke-width="0.16">E</text>
<text x="294.7" y="547.7" font-size="12" fill="#00008C" textLength="6.6" lengthAdjust="spacingAndGlyphs" stroke="#00008C" stroke-width="0.16">S</text>
<text x="893.8" y="530.7" font-size="12" fill="#00008C" textLength="7.4" lengthAdjust="spacingAndGlyphs" stroke="#00008C" stroke-width="0.16">N</text>
<text x="883.2" y="539.4" font-size="12" fill="#00008C" textLength="11.2" lengthAdjust="spacingAndGlyphs" stroke="#00008C" stroke-width="0.16">W</text>
<text x="901.2" y="539.4" font-size="12" fill="#00008C" textLength="6.2" lengthAdjust="spacingAndGlyphs" stroke="#00008C" stroke-width="0.16">E</text>
<text x="893.8" y="547.3" font-size="12" fill="#00008C" textLength="6.6" lengthAdjust="spacingAndGlyphs" stroke="#00008C" stroke-width="0.16">S</text>

</svg>
</body></html>
